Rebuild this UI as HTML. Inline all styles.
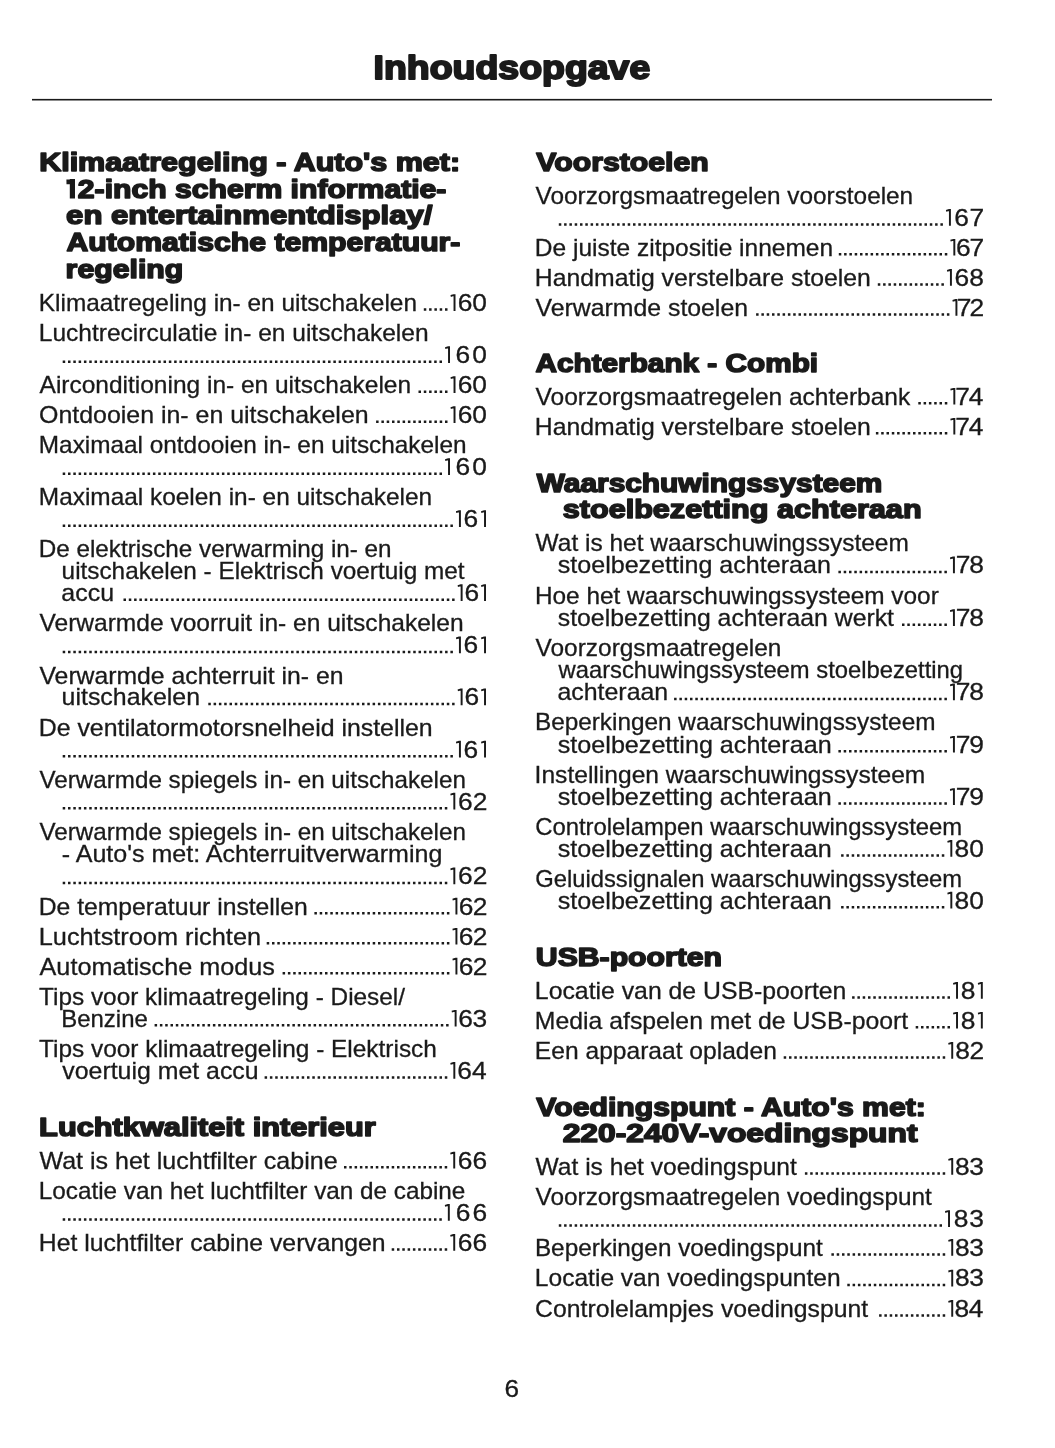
<!DOCTYPE html>
<html><head><meta charset="utf-8"><title>Inhoudsopgave</title>
<style>
html,body{margin:0;padding:0;background:#fff;}
body{width:1055px;height:1448px;overflow:hidden;}
svg{display:block;filter:grayscale(100%);}
text{font-family:'Liberation Sans', sans-serif;fill:#1c1a1b;}
text.b{font-weight:700;}
text.r{font-weight:400;stroke:#1c1a1b;stroke-width:0.3px;}
</style></head><body>
<svg width="1055" height="1448" viewBox="0 0 1055 1448">
<rect x="32" y="98.9" width="960" height="1.6" fill="#1c1a1b"/>
<text class="b" x="373.59" y="78.80" font-size="33.4" textLength="276.69" lengthAdjust="spacingAndGlyphs" stroke="#1c1a1b" stroke-width="2.0" stroke-linejoin="round">Inhoudsopgave</text>
<text class="r" x="504.47" y="1396.70" font-size="24.0" textLength="14.58" lengthAdjust="spacingAndGlyphs">6</text>
<text class="b" x="39.16" y="170.80" font-size="26.3" textLength="420.97" lengthAdjust="spacingAndGlyphs" stroke="#1c1a1b" stroke-width="1.6" stroke-linejoin="round">Klimaatregeling - Auto&#x27;s met:</text>
<text class="b" x="77.85" y="197.60" font-size="26.3" textLength="368.55" lengthAdjust="spacingAndGlyphs" stroke="#1c1a1b" stroke-width="1.6" stroke-linejoin="round">2-inch scherm informatie-</text>
<text class="b" x="66.08" y="224.20" font-size="26.3" textLength="366.42" lengthAdjust="spacingAndGlyphs" stroke="#1c1a1b" stroke-width="1.6" stroke-linejoin="round">en entertainmentdisplay/</text>
<text class="b" x="66.55" y="250.80" font-size="26.3" textLength="393.86" lengthAdjust="spacingAndGlyphs" stroke="#1c1a1b" stroke-width="1.6" stroke-linejoin="round">Automatische temperatuur-</text>
<text class="b" x="65.61" y="277.50" font-size="26.3" textLength="117.62" lengthAdjust="spacingAndGlyphs" stroke="#1c1a1b" stroke-width="1.6" stroke-linejoin="round">regeling</text>
<text class="r" x="38.80" y="310.90" font-size="24.0" textLength="378.18" lengthAdjust="spacingAndGlyphs">Klimaatregeling in- en uitschakelen</text>
<text class="r" x="38.79" y="341.00" font-size="24.0" textLength="389.80" lengthAdjust="spacingAndGlyphs">Luchtrecirculatie in- en uitschakelen</text>
<text class="r" x="39.55" y="393.00" font-size="24.0" textLength="371.54" lengthAdjust="spacingAndGlyphs">Airconditioning in- en uitschakelen</text>
<text class="r" x="39.12" y="423.00" font-size="24.0" textLength="329.50" lengthAdjust="spacingAndGlyphs">Ontdooien in- en uitschakelen</text>
<text class="r" x="38.80" y="453.00" font-size="24.0" textLength="427.78" lengthAdjust="spacingAndGlyphs">Maximaal ontdooien in- en uitschakelen</text>
<text class="r" x="38.80" y="505.00" font-size="24.0" textLength="393.39" lengthAdjust="spacingAndGlyphs">Maximaal koelen in- en uitschakelen</text>
<text class="r" x="38.81" y="557.00" font-size="24.0" textLength="352.76" lengthAdjust="spacingAndGlyphs">De elektrische verwarming in- en</text>
<text class="r" x="61.62" y="579.00" font-size="24.0" textLength="402.86" lengthAdjust="spacingAndGlyphs">uitschakelen - Elektrisch voertuig met</text>
<text class="r" x="61.34" y="601.00" font-size="24.0" textLength="52.72" lengthAdjust="spacingAndGlyphs">accu</text>
<text class="r" x="39.49" y="631.30" font-size="24.0" textLength="424.10" lengthAdjust="spacingAndGlyphs">Verwarmde voorruit in- en uitschakelen</text>
<text class="r" x="39.49" y="683.50" font-size="24.0" textLength="303.92" lengthAdjust="spacingAndGlyphs">Verwarmde achterruit in- en</text>
<text class="r" x="61.58" y="705.30" font-size="24.0" textLength="138.43" lengthAdjust="spacingAndGlyphs">uitschakelen</text>
<text class="r" x="38.76" y="735.70" font-size="24.0" textLength="393.85" lengthAdjust="spacingAndGlyphs">De ventilatormotorsnelheid instellen</text>
<text class="r" x="39.49" y="787.60" font-size="24.0" textLength="426.38" lengthAdjust="spacingAndGlyphs">Verwarmde spiegels in- en uitschakelen</text>
<text class="r" x="39.49" y="840.00" font-size="24.0" textLength="426.38" lengthAdjust="spacingAndGlyphs">Verwarmde spiegels in- en uitschakelen</text>
<text class="r" x="61.79" y="862.00" font-size="24.0" textLength="380.53" lengthAdjust="spacingAndGlyphs">- Auto&#x27;s met: Achterruitverwarming</text>
<text class="r" x="38.77" y="914.50" font-size="24.0" textLength="269.03" lengthAdjust="spacingAndGlyphs">De temperatuur instellen</text>
<text class="r" x="38.72" y="944.60" font-size="24.0" textLength="222.32" lengthAdjust="spacingAndGlyphs">Luchtstroom richten</text>
<text class="r" x="39.55" y="974.50" font-size="24.0" textLength="235.36" lengthAdjust="spacingAndGlyphs">Automatische modus</text>
<text class="r" x="39.05" y="1004.60" font-size="24.0" textLength="365.95" lengthAdjust="spacingAndGlyphs">Tips voor klimaatregeling - Diesel/</text>
<text class="r" x="61.24" y="1026.60" font-size="24.0" textLength="86.53" lengthAdjust="spacingAndGlyphs">Benzine</text>
<text class="r" x="39.05" y="1056.70" font-size="24.0" textLength="397.83" lengthAdjust="spacingAndGlyphs">Tips voor klimaatregeling - Elektrisch</text>
<text class="r" x="62.31" y="1078.70" font-size="24.0" textLength="196.34" lengthAdjust="spacingAndGlyphs">voertuig met accu</text>
<text class="b" x="39.14" y="1135.90" font-size="26.3" textLength="336.52" lengthAdjust="spacingAndGlyphs" stroke="#1c1a1b" stroke-width="1.6" stroke-linejoin="round">Luchtkwaliteit interieur</text>
<text class="r" x="39.49" y="1168.50" font-size="24.0" textLength="298.12" lengthAdjust="spacingAndGlyphs">Wat is het luchtfilter cabine</text>
<text class="r" x="38.81" y="1198.70" font-size="24.0" textLength="426.57" lengthAdjust="spacingAndGlyphs">Locatie van het luchtfilter van de cabine</text>
<text class="r" x="38.77" y="1250.80" font-size="24.0" textLength="346.84" lengthAdjust="spacingAndGlyphs">Het luchtfilter cabine vervangen</text>
<text class="b" x="536.39" y="170.80" font-size="26.3" textLength="172.28" lengthAdjust="spacingAndGlyphs" stroke="#1c1a1b" stroke-width="1.6" stroke-linejoin="round">Voorstoelen</text>
<text class="r" x="535.59" y="203.70" font-size="24.0" textLength="377.59" lengthAdjust="spacingAndGlyphs">Voorzorgsmaatregelen voorstoelen</text>
<text class="r" x="534.89" y="255.60" font-size="24.0" textLength="298.20" lengthAdjust="spacingAndGlyphs">De juiste zitpositie innemen</text>
<text class="r" x="534.87" y="285.70" font-size="24.0" textLength="336.04" lengthAdjust="spacingAndGlyphs">Handmatig verstelbare stoelen</text>
<text class="r" x="535.59" y="315.80" font-size="24.0" textLength="212.42" lengthAdjust="spacingAndGlyphs">Verwarmde stoelen</text>
<text class="b" x="535.46" y="372.00" font-size="26.3" textLength="282.65" lengthAdjust="spacingAndGlyphs" stroke="#1c1a1b" stroke-width="1.6" stroke-linejoin="round">Achterbank - Combi</text>
<text class="r" x="535.59" y="404.60" font-size="24.0" textLength="374.67" lengthAdjust="spacingAndGlyphs">Voorzorgsmaatregelen achterbank</text>
<text class="r" x="534.87" y="434.60" font-size="24.0" textLength="336.04" lengthAdjust="spacingAndGlyphs">Handmatig verstelbare stoelen</text>
<text class="b" x="536.77" y="491.70" font-size="26.3" textLength="345.58" lengthAdjust="spacingAndGlyphs" stroke="#1c1a1b" stroke-width="1.6" stroke-linejoin="round">Waarschuwingssysteem</text>
<text class="b" x="562.72" y="518.20" font-size="26.3" textLength="358.87" lengthAdjust="spacingAndGlyphs" stroke="#1c1a1b" stroke-width="1.6" stroke-linejoin="round">stoelbezetting achteraan</text>
<text class="r" x="535.59" y="550.90" font-size="24.0" textLength="373.22" lengthAdjust="spacingAndGlyphs">Wat is het waarschuwingssysteem</text>
<text class="r" x="557.80" y="573.30" font-size="24.0" textLength="273.02" lengthAdjust="spacingAndGlyphs">stoelbezetting achteraan</text>
<text class="r" x="534.90" y="603.50" font-size="24.0" textLength="403.91" lengthAdjust="spacingAndGlyphs">Hoe het waarschuwingssysteem voor</text>
<text class="r" x="557.81" y="626.00" font-size="24.0" textLength="336.17" lengthAdjust="spacingAndGlyphs">stoelbezetting achteraan werkt</text>
<text class="r" x="535.59" y="655.90" font-size="24.0" textLength="245.79" lengthAdjust="spacingAndGlyphs">Voorzorgsmaatregelen</text>
<text class="r" x="558.53" y="678.00" font-size="24.0" textLength="404.50" lengthAdjust="spacingAndGlyphs">waarschuwingssysteem stoelbezetting</text>
<text class="r" x="557.44" y="700.20" font-size="24.0" textLength="110.78" lengthAdjust="spacingAndGlyphs">achteraan</text>
<text class="r" x="534.90" y="730.40" font-size="24.0" textLength="400.60" lengthAdjust="spacingAndGlyphs">Beperkingen waarschuwingssysteem</text>
<text class="r" x="557.80" y="752.60" font-size="24.0" textLength="273.83" lengthAdjust="spacingAndGlyphs">stoelbezetting achteraan</text>
<text class="r" x="534.63" y="782.90" font-size="24.0" textLength="390.69" lengthAdjust="spacingAndGlyphs">Instellingen waarschuwingssysteem</text>
<text class="r" x="557.80" y="804.90" font-size="24.0" textLength="273.83" lengthAdjust="spacingAndGlyphs">stoelbezetting achteraan</text>
<text class="r" x="535.19" y="835.00" font-size="24.0" textLength="426.98" lengthAdjust="spacingAndGlyphs">Controlelampen waarschuwingssysteem</text>
<text class="r" x="557.80" y="856.70" font-size="24.0" textLength="273.83" lengthAdjust="spacingAndGlyphs">stoelbezetting achteraan</text>
<text class="r" x="535.20" y="887.00" font-size="24.0" textLength="426.96" lengthAdjust="spacingAndGlyphs">Geluidssignalen waarschuwingssysteem</text>
<text class="r" x="557.80" y="908.50" font-size="24.0" textLength="273.83" lengthAdjust="spacingAndGlyphs">stoelbezetting achteraan</text>
<text class="b" x="535.89" y="966.00" font-size="26.3" textLength="186.19" lengthAdjust="spacingAndGlyphs" stroke="#1c1a1b" stroke-width="1.6" stroke-linejoin="round">USB-poorten</text>
<text class="r" x="534.87" y="998.70" font-size="24.0" textLength="311.54" lengthAdjust="spacingAndGlyphs">Locatie van de USB-poorten</text>
<text class="r" x="534.87" y="1028.60" font-size="24.0" textLength="373.31" lengthAdjust="spacingAndGlyphs">Media afspelen met de USB-poort</text>
<text class="r" x="534.88" y="1058.80" font-size="24.0" textLength="242.01" lengthAdjust="spacingAndGlyphs">Een apparaat opladen</text>
<text class="b" x="536.39" y="1115.70" font-size="26.3" textLength="389.41" lengthAdjust="spacingAndGlyphs" stroke="#1c1a1b" stroke-width="1.6" stroke-linejoin="round">Voedingspunt - Auto&#x27;s met:</text>
<text class="b" x="562.70" y="1141.80" font-size="26.3" textLength="354.79" lengthAdjust="spacingAndGlyphs" stroke="#1c1a1b" stroke-width="1.6" stroke-linejoin="round">220-240V-voedingspunt</text>
<text class="r" x="535.59" y="1174.80" font-size="24.0" textLength="261.29" lengthAdjust="spacingAndGlyphs">Wat is het voedingspunt</text>
<text class="r" x="535.59" y="1204.90" font-size="24.0" textLength="396.29" lengthAdjust="spacingAndGlyphs">Voorzorgsmaatregelen voedingspunt</text>
<text class="r" x="534.91" y="1255.70" font-size="24.0" textLength="287.87" lengthAdjust="spacingAndGlyphs">Beperkingen voedingspunt</text>
<text class="r" x="534.89" y="1286.40" font-size="24.0" textLength="305.71" lengthAdjust="spacingAndGlyphs">Locatie van voedingspunten</text>
<text class="r" x="535.14" y="1316.70" font-size="24.0" textLength="333.04" lengthAdjust="spacingAndGlyphs">Controlelampjes voedingspunt</text>
<text class="r" x="457.68" y="310.90" font-size="24.0" textLength="14.68" lengthAdjust="spacingAndGlyphs">6</text>
<text class="r" x="472.35" y="310.90" font-size="24.0" textLength="14.68" lengthAdjust="spacingAndGlyphs">0</text>
<text class="r" x="455.58" y="363.00" font-size="24.0" textLength="14.68" lengthAdjust="spacingAndGlyphs">6</text>
<text class="r" x="472.35" y="363.00" font-size="24.0" textLength="14.68" lengthAdjust="spacingAndGlyphs">0</text>
<text class="r" x="457.68" y="393.00" font-size="24.0" textLength="14.68" lengthAdjust="spacingAndGlyphs">6</text>
<text class="r" x="472.35" y="393.00" font-size="24.0" textLength="14.68" lengthAdjust="spacingAndGlyphs">0</text>
<text class="r" x="457.68" y="423.00" font-size="24.0" textLength="14.68" lengthAdjust="spacingAndGlyphs">6</text>
<text class="r" x="472.35" y="423.00" font-size="24.0" textLength="14.68" lengthAdjust="spacingAndGlyphs">0</text>
<text class="r" x="455.58" y="475.00" font-size="24.0" textLength="14.68" lengthAdjust="spacingAndGlyphs">6</text>
<text class="r" x="472.35" y="475.00" font-size="24.0" textLength="14.68" lengthAdjust="spacingAndGlyphs">0</text>
<text class="r" x="463.62" y="527.00" font-size="24.0" textLength="14.68" lengthAdjust="spacingAndGlyphs">6</text>
<text class="r" x="464.44" y="601.00" font-size="24.0" textLength="14.68" lengthAdjust="spacingAndGlyphs">6</text>
<text class="r" x="463.62" y="653.20" font-size="24.0" textLength="14.68" lengthAdjust="spacingAndGlyphs">6</text>
<text class="r" x="464.44" y="705.30" font-size="24.0" textLength="14.68" lengthAdjust="spacingAndGlyphs">6</text>
<text class="r" x="463.62" y="757.50" font-size="24.0" textLength="14.68" lengthAdjust="spacingAndGlyphs">6</text>
<text class="r" x="457.97" y="809.50" font-size="24.0" textLength="14.68" lengthAdjust="spacingAndGlyphs">6</text>
<text class="r" x="472.65" y="809.50" font-size="24.0" textLength="14.68" lengthAdjust="spacingAndGlyphs">2</text>
<text class="r" x="457.97" y="884.30" font-size="24.0" textLength="14.68" lengthAdjust="spacingAndGlyphs">6</text>
<text class="r" x="472.65" y="884.30" font-size="24.0" textLength="14.68" lengthAdjust="spacingAndGlyphs">2</text>
<text class="r" x="458.77" y="914.50" font-size="24.0" textLength="14.68" lengthAdjust="spacingAndGlyphs">6</text>
<text class="r" x="472.65" y="914.50" font-size="24.0" textLength="14.68" lengthAdjust="spacingAndGlyphs">2</text>
<text class="r" x="458.77" y="944.60" font-size="24.0" textLength="14.68" lengthAdjust="spacingAndGlyphs">6</text>
<text class="r" x="472.65" y="944.60" font-size="24.0" textLength="14.68" lengthAdjust="spacingAndGlyphs">2</text>
<text class="r" x="458.77" y="974.50" font-size="24.0" textLength="14.68" lengthAdjust="spacingAndGlyphs">6</text>
<text class="r" x="472.65" y="974.50" font-size="24.0" textLength="14.68" lengthAdjust="spacingAndGlyphs">2</text>
<text class="r" x="458.16" y="1026.60" font-size="24.0" textLength="14.68" lengthAdjust="spacingAndGlyphs">6</text>
<text class="r" x="472.48" y="1026.60" font-size="24.0" textLength="14.68" lengthAdjust="spacingAndGlyphs">3</text>
<text class="r" x="457.18" y="1078.70" font-size="24.0" textLength="14.68" lengthAdjust="spacingAndGlyphs">6</text>
<text class="r" x="472.09" y="1078.70" font-size="24.0" textLength="14.68" lengthAdjust="spacingAndGlyphs">4</text>
<text class="r" x="457.83" y="1168.50" font-size="24.0" textLength="14.68" lengthAdjust="spacingAndGlyphs">6</text>
<text class="r" x="472.48" y="1168.50" font-size="24.0" textLength="14.68" lengthAdjust="spacingAndGlyphs">6</text>
<text class="r" x="455.77" y="1220.80" font-size="24.0" textLength="14.68" lengthAdjust="spacingAndGlyphs">6</text>
<text class="r" x="472.48" y="1220.80" font-size="24.0" textLength="14.68" lengthAdjust="spacingAndGlyphs">6</text>
<text class="r" x="457.83" y="1250.80" font-size="24.0" textLength="14.68" lengthAdjust="spacingAndGlyphs">6</text>
<text class="r" x="472.48" y="1250.80" font-size="24.0" textLength="14.68" lengthAdjust="spacingAndGlyphs">6</text>
<text class="r" x="954.33" y="225.70" font-size="24.0" textLength="14.68" lengthAdjust="spacingAndGlyphs">6</text>
<text class="r" x="969.45" y="225.70" font-size="24.0" textLength="14.68" lengthAdjust="spacingAndGlyphs">7</text>
<text class="r" x="956.01" y="255.60" font-size="24.0" textLength="14.68" lengthAdjust="spacingAndGlyphs">6</text>
<text class="r" x="969.45" y="255.60" font-size="24.0" textLength="14.68" lengthAdjust="spacingAndGlyphs">7</text>
<text class="r" x="954.47" y="285.70" font-size="24.0" textLength="14.68" lengthAdjust="spacingAndGlyphs">6</text>
<text class="r" x="969.26" y="285.70" font-size="24.0" textLength="14.68" lengthAdjust="spacingAndGlyphs">8</text>
<text class="r" x="956.89" y="315.80" font-size="24.0" textLength="14.68" lengthAdjust="spacingAndGlyphs">7</text>
<text class="r" x="969.45" y="315.80" font-size="24.0" textLength="14.68" lengthAdjust="spacingAndGlyphs">2</text>
<text class="r" x="955.30" y="404.60" font-size="24.0" textLength="14.68" lengthAdjust="spacingAndGlyphs">7</text>
<text class="r" x="968.89" y="404.60" font-size="24.0" textLength="14.68" lengthAdjust="spacingAndGlyphs">4</text>
<text class="r" x="955.30" y="434.60" font-size="24.0" textLength="14.68" lengthAdjust="spacingAndGlyphs">7</text>
<text class="r" x="968.89" y="434.60" font-size="24.0" textLength="14.68" lengthAdjust="spacingAndGlyphs">4</text>
<text class="r" x="955.72" y="573.30" font-size="24.0" textLength="14.68" lengthAdjust="spacingAndGlyphs">7</text>
<text class="r" x="969.26" y="573.30" font-size="24.0" textLength="14.68" lengthAdjust="spacingAndGlyphs">8</text>
<text class="r" x="955.72" y="626.00" font-size="24.0" textLength="14.68" lengthAdjust="spacingAndGlyphs">7</text>
<text class="r" x="969.26" y="626.00" font-size="24.0" textLength="14.68" lengthAdjust="spacingAndGlyphs">8</text>
<text class="r" x="955.72" y="700.20" font-size="24.0" textLength="14.68" lengthAdjust="spacingAndGlyphs">7</text>
<text class="r" x="969.26" y="700.20" font-size="24.0" textLength="14.68" lengthAdjust="spacingAndGlyphs">8</text>
<text class="r" x="955.83" y="752.60" font-size="24.0" textLength="14.68" lengthAdjust="spacingAndGlyphs">7</text>
<text class="r" x="969.37" y="752.60" font-size="24.0" textLength="14.68" lengthAdjust="spacingAndGlyphs">9</text>
<text class="r" x="955.83" y="804.90" font-size="24.0" textLength="14.68" lengthAdjust="spacingAndGlyphs">7</text>
<text class="r" x="969.37" y="804.90" font-size="24.0" textLength="14.68" lengthAdjust="spacingAndGlyphs">9</text>
<text class="r" x="954.54" y="856.70" font-size="24.0" textLength="14.68" lengthAdjust="spacingAndGlyphs">8</text>
<text class="r" x="969.15" y="856.70" font-size="24.0" textLength="14.68" lengthAdjust="spacingAndGlyphs">0</text>
<text class="r" x="954.54" y="908.50" font-size="24.0" textLength="14.68" lengthAdjust="spacingAndGlyphs">8</text>
<text class="r" x="969.15" y="908.50" font-size="24.0" textLength="14.68" lengthAdjust="spacingAndGlyphs">0</text>
<text class="r" x="960.65" y="998.70" font-size="24.0" textLength="14.68" lengthAdjust="spacingAndGlyphs">8</text>
<text class="r" x="960.65" y="1028.60" font-size="24.0" textLength="14.68" lengthAdjust="spacingAndGlyphs">8</text>
<text class="r" x="955.26" y="1058.80" font-size="24.0" textLength="14.68" lengthAdjust="spacingAndGlyphs">8</text>
<text class="r" x="969.45" y="1058.80" font-size="24.0" textLength="14.68" lengthAdjust="spacingAndGlyphs">2</text>
<text class="r" x="954.95" y="1174.80" font-size="24.0" textLength="14.68" lengthAdjust="spacingAndGlyphs">8</text>
<text class="r" x="969.28" y="1174.80" font-size="24.0" textLength="14.68" lengthAdjust="spacingAndGlyphs">3</text>
<text class="r" x="953.73" y="1226.90" font-size="24.0" textLength="14.68" lengthAdjust="spacingAndGlyphs">8</text>
<text class="r" x="969.28" y="1226.90" font-size="24.0" textLength="14.68" lengthAdjust="spacingAndGlyphs">3</text>
<text class="r" x="954.95" y="1255.70" font-size="24.0" textLength="14.68" lengthAdjust="spacingAndGlyphs">8</text>
<text class="r" x="969.28" y="1255.70" font-size="24.0" textLength="14.68" lengthAdjust="spacingAndGlyphs">3</text>
<text class="r" x="954.95" y="1286.40" font-size="24.0" textLength="14.68" lengthAdjust="spacingAndGlyphs">8</text>
<text class="r" x="969.28" y="1286.40" font-size="24.0" textLength="14.68" lengthAdjust="spacingAndGlyphs">3</text>
<text class="r" x="954.47" y="1316.70" font-size="24.0" textLength="14.68" lengthAdjust="spacingAndGlyphs">8</text>
<text class="r" x="968.89" y="1316.70" font-size="24.0" textLength="14.68" lengthAdjust="spacingAndGlyphs">4</text>
<path fill="#1c1a1b" d="M445.00 308.35h2.5v2.5h-2.5zM439.70 308.35h2.5v2.5h-2.5zM434.40 308.35h2.5v2.5h-2.5zM429.10 308.35h2.5v2.5h-2.5zM423.80 308.35h2.5v2.5h-2.5zM439.50 360.45h2.5v2.5h-2.5zM434.19 360.45h2.5v2.5h-2.5zM428.89 360.45h2.5v2.5h-2.5zM423.58 360.45h2.5v2.5h-2.5zM418.27 360.45h2.5v2.5h-2.5zM412.96 360.45h2.5v2.5h-2.5zM407.66 360.45h2.5v2.5h-2.5zM402.35 360.45h2.5v2.5h-2.5zM397.04 360.45h2.5v2.5h-2.5zM391.74 360.45h2.5v2.5h-2.5zM386.43 360.45h2.5v2.5h-2.5zM381.12 360.45h2.5v2.5h-2.5zM375.82 360.45h2.5v2.5h-2.5zM370.51 360.45h2.5v2.5h-2.5zM365.20 360.45h2.5v2.5h-2.5zM359.89 360.45h2.5v2.5h-2.5zM354.59 360.45h2.5v2.5h-2.5zM349.28 360.45h2.5v2.5h-2.5zM343.97 360.45h2.5v2.5h-2.5zM338.67 360.45h2.5v2.5h-2.5zM333.36 360.45h2.5v2.5h-2.5zM328.05 360.45h2.5v2.5h-2.5zM322.75 360.45h2.5v2.5h-2.5zM317.44 360.45h2.5v2.5h-2.5zM312.13 360.45h2.5v2.5h-2.5zM306.82 360.45h2.5v2.5h-2.5zM301.52 360.45h2.5v2.5h-2.5zM296.21 360.45h2.5v2.5h-2.5zM290.90 360.45h2.5v2.5h-2.5zM285.60 360.45h2.5v2.5h-2.5zM280.29 360.45h2.5v2.5h-2.5zM274.98 360.45h2.5v2.5h-2.5zM269.67 360.45h2.5v2.5h-2.5zM264.37 360.45h2.5v2.5h-2.5zM259.06 360.45h2.5v2.5h-2.5zM253.75 360.45h2.5v2.5h-2.5zM248.45 360.45h2.5v2.5h-2.5zM243.14 360.45h2.5v2.5h-2.5zM237.83 360.45h2.5v2.5h-2.5zM232.53 360.45h2.5v2.5h-2.5zM227.22 360.45h2.5v2.5h-2.5zM221.91 360.45h2.5v2.5h-2.5zM216.60 360.45h2.5v2.5h-2.5zM211.30 360.45h2.5v2.5h-2.5zM205.99 360.45h2.5v2.5h-2.5zM200.68 360.45h2.5v2.5h-2.5zM195.38 360.45h2.5v2.5h-2.5zM190.07 360.45h2.5v2.5h-2.5zM184.76 360.45h2.5v2.5h-2.5zM179.45 360.45h2.5v2.5h-2.5zM174.15 360.45h2.5v2.5h-2.5zM168.84 360.45h2.5v2.5h-2.5zM163.53 360.45h2.5v2.5h-2.5zM158.23 360.45h2.5v2.5h-2.5zM152.92 360.45h2.5v2.5h-2.5zM147.61 360.45h2.5v2.5h-2.5zM142.31 360.45h2.5v2.5h-2.5zM137.00 360.45h2.5v2.5h-2.5zM131.69 360.45h2.5v2.5h-2.5zM126.38 360.45h2.5v2.5h-2.5zM121.08 360.45h2.5v2.5h-2.5zM115.77 360.45h2.5v2.5h-2.5zM110.46 360.45h2.5v2.5h-2.5zM105.16 360.45h2.5v2.5h-2.5zM99.85 360.45h2.5v2.5h-2.5zM94.54 360.45h2.5v2.5h-2.5zM89.24 360.45h2.5v2.5h-2.5zM83.93 360.45h2.5v2.5h-2.5zM78.62 360.45h2.5v2.5h-2.5zM73.31 360.45h2.5v2.5h-2.5zM68.01 360.45h2.5v2.5h-2.5zM62.70 360.45h2.5v2.5h-2.5zM445.00 390.45h2.5v2.5h-2.5zM439.70 390.45h2.5v2.5h-2.5zM434.40 390.45h2.5v2.5h-2.5zM429.10 390.45h2.5v2.5h-2.5zM423.80 390.45h2.5v2.5h-2.5zM418.50 390.45h2.5v2.5h-2.5zM445.00 420.45h2.5v2.5h-2.5zM439.70 420.45h2.5v2.5h-2.5zM434.40 420.45h2.5v2.5h-2.5zM429.10 420.45h2.5v2.5h-2.5zM423.80 420.45h2.5v2.5h-2.5zM418.50 420.45h2.5v2.5h-2.5zM413.20 420.45h2.5v2.5h-2.5zM407.90 420.45h2.5v2.5h-2.5zM402.60 420.45h2.5v2.5h-2.5zM397.30 420.45h2.5v2.5h-2.5zM392.00 420.45h2.5v2.5h-2.5zM386.70 420.45h2.5v2.5h-2.5zM381.40 420.45h2.5v2.5h-2.5zM376.10 420.45h2.5v2.5h-2.5zM439.50 472.45h2.5v2.5h-2.5zM434.19 472.45h2.5v2.5h-2.5zM428.89 472.45h2.5v2.5h-2.5zM423.58 472.45h2.5v2.5h-2.5zM418.27 472.45h2.5v2.5h-2.5zM412.96 472.45h2.5v2.5h-2.5zM407.66 472.45h2.5v2.5h-2.5zM402.35 472.45h2.5v2.5h-2.5zM397.04 472.45h2.5v2.5h-2.5zM391.74 472.45h2.5v2.5h-2.5zM386.43 472.45h2.5v2.5h-2.5zM381.12 472.45h2.5v2.5h-2.5zM375.82 472.45h2.5v2.5h-2.5zM370.51 472.45h2.5v2.5h-2.5zM365.20 472.45h2.5v2.5h-2.5zM359.89 472.45h2.5v2.5h-2.5zM354.59 472.45h2.5v2.5h-2.5zM349.28 472.45h2.5v2.5h-2.5zM343.97 472.45h2.5v2.5h-2.5zM338.67 472.45h2.5v2.5h-2.5zM333.36 472.45h2.5v2.5h-2.5zM328.05 472.45h2.5v2.5h-2.5zM322.75 472.45h2.5v2.5h-2.5zM317.44 472.45h2.5v2.5h-2.5zM312.13 472.45h2.5v2.5h-2.5zM306.82 472.45h2.5v2.5h-2.5zM301.52 472.45h2.5v2.5h-2.5zM296.21 472.45h2.5v2.5h-2.5zM290.90 472.45h2.5v2.5h-2.5zM285.60 472.45h2.5v2.5h-2.5zM280.29 472.45h2.5v2.5h-2.5zM274.98 472.45h2.5v2.5h-2.5zM269.67 472.45h2.5v2.5h-2.5zM264.37 472.45h2.5v2.5h-2.5zM259.06 472.45h2.5v2.5h-2.5zM253.75 472.45h2.5v2.5h-2.5zM248.45 472.45h2.5v2.5h-2.5zM243.14 472.45h2.5v2.5h-2.5zM237.83 472.45h2.5v2.5h-2.5zM232.53 472.45h2.5v2.5h-2.5zM227.22 472.45h2.5v2.5h-2.5zM221.91 472.45h2.5v2.5h-2.5zM216.60 472.45h2.5v2.5h-2.5zM211.30 472.45h2.5v2.5h-2.5zM205.99 472.45h2.5v2.5h-2.5zM200.68 472.45h2.5v2.5h-2.5zM195.38 472.45h2.5v2.5h-2.5zM190.07 472.45h2.5v2.5h-2.5zM184.76 472.45h2.5v2.5h-2.5zM179.45 472.45h2.5v2.5h-2.5zM174.15 472.45h2.5v2.5h-2.5zM168.84 472.45h2.5v2.5h-2.5zM163.53 472.45h2.5v2.5h-2.5zM158.23 472.45h2.5v2.5h-2.5zM152.92 472.45h2.5v2.5h-2.5zM147.61 472.45h2.5v2.5h-2.5zM142.31 472.45h2.5v2.5h-2.5zM137.00 472.45h2.5v2.5h-2.5zM131.69 472.45h2.5v2.5h-2.5zM126.38 472.45h2.5v2.5h-2.5zM121.08 472.45h2.5v2.5h-2.5zM115.77 472.45h2.5v2.5h-2.5zM110.46 472.45h2.5v2.5h-2.5zM105.16 472.45h2.5v2.5h-2.5zM99.85 472.45h2.5v2.5h-2.5zM94.54 472.45h2.5v2.5h-2.5zM89.24 472.45h2.5v2.5h-2.5zM83.93 472.45h2.5v2.5h-2.5zM78.62 472.45h2.5v2.5h-2.5zM73.31 472.45h2.5v2.5h-2.5zM68.01 472.45h2.5v2.5h-2.5zM62.70 472.45h2.5v2.5h-2.5zM450.40 524.45h2.5v2.5h-2.5zM445.09 524.45h2.5v2.5h-2.5zM439.78 524.45h2.5v2.5h-2.5zM434.47 524.45h2.5v2.5h-2.5zM429.16 524.45h2.5v2.5h-2.5zM423.85 524.45h2.5v2.5h-2.5zM418.53 524.45h2.5v2.5h-2.5zM413.22 524.45h2.5v2.5h-2.5zM407.91 524.45h2.5v2.5h-2.5zM402.60 524.45h2.5v2.5h-2.5zM397.29 524.45h2.5v2.5h-2.5zM391.98 524.45h2.5v2.5h-2.5zM386.67 524.45h2.5v2.5h-2.5zM381.36 524.45h2.5v2.5h-2.5zM376.05 524.45h2.5v2.5h-2.5zM370.74 524.45h2.5v2.5h-2.5zM365.42 524.45h2.5v2.5h-2.5zM360.11 524.45h2.5v2.5h-2.5zM354.80 524.45h2.5v2.5h-2.5zM349.49 524.45h2.5v2.5h-2.5zM344.18 524.45h2.5v2.5h-2.5zM338.87 524.45h2.5v2.5h-2.5zM333.56 524.45h2.5v2.5h-2.5zM328.25 524.45h2.5v2.5h-2.5zM322.94 524.45h2.5v2.5h-2.5zM317.63 524.45h2.5v2.5h-2.5zM312.32 524.45h2.5v2.5h-2.5zM307.00 524.45h2.5v2.5h-2.5zM301.69 524.45h2.5v2.5h-2.5zM296.38 524.45h2.5v2.5h-2.5zM291.07 524.45h2.5v2.5h-2.5zM285.76 524.45h2.5v2.5h-2.5zM280.45 524.45h2.5v2.5h-2.5zM275.14 524.45h2.5v2.5h-2.5zM269.83 524.45h2.5v2.5h-2.5zM264.52 524.45h2.5v2.5h-2.5zM259.21 524.45h2.5v2.5h-2.5zM253.89 524.45h2.5v2.5h-2.5zM248.58 524.45h2.5v2.5h-2.5zM243.27 524.45h2.5v2.5h-2.5zM237.96 524.45h2.5v2.5h-2.5zM232.65 524.45h2.5v2.5h-2.5zM227.34 524.45h2.5v2.5h-2.5zM222.03 524.45h2.5v2.5h-2.5zM216.72 524.45h2.5v2.5h-2.5zM211.41 524.45h2.5v2.5h-2.5zM206.10 524.45h2.5v2.5h-2.5zM200.78 524.45h2.5v2.5h-2.5zM195.47 524.45h2.5v2.5h-2.5zM190.16 524.45h2.5v2.5h-2.5zM184.85 524.45h2.5v2.5h-2.5zM179.54 524.45h2.5v2.5h-2.5zM174.23 524.45h2.5v2.5h-2.5zM168.92 524.45h2.5v2.5h-2.5zM163.61 524.45h2.5v2.5h-2.5zM158.30 524.45h2.5v2.5h-2.5zM152.99 524.45h2.5v2.5h-2.5zM147.68 524.45h2.5v2.5h-2.5zM142.36 524.45h2.5v2.5h-2.5zM137.05 524.45h2.5v2.5h-2.5zM131.74 524.45h2.5v2.5h-2.5zM126.43 524.45h2.5v2.5h-2.5zM121.12 524.45h2.5v2.5h-2.5zM115.81 524.45h2.5v2.5h-2.5zM110.50 524.45h2.5v2.5h-2.5zM105.19 524.45h2.5v2.5h-2.5zM99.88 524.45h2.5v2.5h-2.5zM94.57 524.45h2.5v2.5h-2.5zM89.25 524.45h2.5v2.5h-2.5zM83.94 524.45h2.5v2.5h-2.5zM78.63 524.45h2.5v2.5h-2.5zM73.32 524.45h2.5v2.5h-2.5zM68.01 524.45h2.5v2.5h-2.5zM62.70 524.45h2.5v2.5h-2.5zM452.10 598.45h2.5v2.5h-2.5zM446.80 598.45h2.5v2.5h-2.5zM441.50 598.45h2.5v2.5h-2.5zM436.20 598.45h2.5v2.5h-2.5zM430.90 598.45h2.5v2.5h-2.5zM425.60 598.45h2.5v2.5h-2.5zM420.30 598.45h2.5v2.5h-2.5zM415.00 598.45h2.5v2.5h-2.5zM409.70 598.45h2.5v2.5h-2.5zM404.40 598.45h2.5v2.5h-2.5zM399.10 598.45h2.5v2.5h-2.5zM393.80 598.45h2.5v2.5h-2.5zM388.50 598.45h2.5v2.5h-2.5zM383.20 598.45h2.5v2.5h-2.5zM377.90 598.45h2.5v2.5h-2.5zM372.60 598.45h2.5v2.5h-2.5zM367.30 598.45h2.5v2.5h-2.5zM362.00 598.45h2.5v2.5h-2.5zM356.70 598.45h2.5v2.5h-2.5zM351.40 598.45h2.5v2.5h-2.5zM346.10 598.45h2.5v2.5h-2.5zM340.80 598.45h2.5v2.5h-2.5zM335.50 598.45h2.5v2.5h-2.5zM330.20 598.45h2.5v2.5h-2.5zM324.90 598.45h2.5v2.5h-2.5zM319.60 598.45h2.5v2.5h-2.5zM314.30 598.45h2.5v2.5h-2.5zM309.00 598.45h2.5v2.5h-2.5zM303.70 598.45h2.5v2.5h-2.5zM298.40 598.45h2.5v2.5h-2.5zM293.10 598.45h2.5v2.5h-2.5zM287.80 598.45h2.5v2.5h-2.5zM282.50 598.45h2.5v2.5h-2.5zM277.20 598.45h2.5v2.5h-2.5zM271.90 598.45h2.5v2.5h-2.5zM266.60 598.45h2.5v2.5h-2.5zM261.30 598.45h2.5v2.5h-2.5zM256.00 598.45h2.5v2.5h-2.5zM250.70 598.45h2.5v2.5h-2.5zM245.40 598.45h2.5v2.5h-2.5zM240.10 598.45h2.5v2.5h-2.5zM234.80 598.45h2.5v2.5h-2.5zM229.50 598.45h2.5v2.5h-2.5zM224.20 598.45h2.5v2.5h-2.5zM218.90 598.45h2.5v2.5h-2.5zM213.60 598.45h2.5v2.5h-2.5zM208.30 598.45h2.5v2.5h-2.5zM203.00 598.45h2.5v2.5h-2.5zM197.70 598.45h2.5v2.5h-2.5zM192.40 598.45h2.5v2.5h-2.5zM187.10 598.45h2.5v2.5h-2.5zM181.80 598.45h2.5v2.5h-2.5zM176.50 598.45h2.5v2.5h-2.5zM171.20 598.45h2.5v2.5h-2.5zM165.90 598.45h2.5v2.5h-2.5zM160.60 598.45h2.5v2.5h-2.5zM155.30 598.45h2.5v2.5h-2.5zM150.00 598.45h2.5v2.5h-2.5zM144.70 598.45h2.5v2.5h-2.5zM139.40 598.45h2.5v2.5h-2.5zM134.10 598.45h2.5v2.5h-2.5zM128.80 598.45h2.5v2.5h-2.5zM123.50 598.45h2.5v2.5h-2.5zM450.40 650.65h2.5v2.5h-2.5zM445.09 650.65h2.5v2.5h-2.5zM439.78 650.65h2.5v2.5h-2.5zM434.47 650.65h2.5v2.5h-2.5zM429.16 650.65h2.5v2.5h-2.5zM423.85 650.65h2.5v2.5h-2.5zM418.53 650.65h2.5v2.5h-2.5zM413.22 650.65h2.5v2.5h-2.5zM407.91 650.65h2.5v2.5h-2.5zM402.60 650.65h2.5v2.5h-2.5zM397.29 650.65h2.5v2.5h-2.5zM391.98 650.65h2.5v2.5h-2.5zM386.67 650.65h2.5v2.5h-2.5zM381.36 650.65h2.5v2.5h-2.5zM376.05 650.65h2.5v2.5h-2.5zM370.74 650.65h2.5v2.5h-2.5zM365.42 650.65h2.5v2.5h-2.5zM360.11 650.65h2.5v2.5h-2.5zM354.80 650.65h2.5v2.5h-2.5zM349.49 650.65h2.5v2.5h-2.5zM344.18 650.65h2.5v2.5h-2.5zM338.87 650.65h2.5v2.5h-2.5zM333.56 650.65h2.5v2.5h-2.5zM328.25 650.65h2.5v2.5h-2.5zM322.94 650.65h2.5v2.5h-2.5zM317.63 650.65h2.5v2.5h-2.5zM312.32 650.65h2.5v2.5h-2.5zM307.00 650.65h2.5v2.5h-2.5zM301.69 650.65h2.5v2.5h-2.5zM296.38 650.65h2.5v2.5h-2.5zM291.07 650.65h2.5v2.5h-2.5zM285.76 650.65h2.5v2.5h-2.5zM280.45 650.65h2.5v2.5h-2.5zM275.14 650.65h2.5v2.5h-2.5zM269.83 650.65h2.5v2.5h-2.5zM264.52 650.65h2.5v2.5h-2.5zM259.21 650.65h2.5v2.5h-2.5zM253.89 650.65h2.5v2.5h-2.5zM248.58 650.65h2.5v2.5h-2.5zM243.27 650.65h2.5v2.5h-2.5zM237.96 650.65h2.5v2.5h-2.5zM232.65 650.65h2.5v2.5h-2.5zM227.34 650.65h2.5v2.5h-2.5zM222.03 650.65h2.5v2.5h-2.5zM216.72 650.65h2.5v2.5h-2.5zM211.41 650.65h2.5v2.5h-2.5zM206.10 650.65h2.5v2.5h-2.5zM200.78 650.65h2.5v2.5h-2.5zM195.47 650.65h2.5v2.5h-2.5zM190.16 650.65h2.5v2.5h-2.5zM184.85 650.65h2.5v2.5h-2.5zM179.54 650.65h2.5v2.5h-2.5zM174.23 650.65h2.5v2.5h-2.5zM168.92 650.65h2.5v2.5h-2.5zM163.61 650.65h2.5v2.5h-2.5zM158.30 650.65h2.5v2.5h-2.5zM152.99 650.65h2.5v2.5h-2.5zM147.68 650.65h2.5v2.5h-2.5zM142.36 650.65h2.5v2.5h-2.5zM137.05 650.65h2.5v2.5h-2.5zM131.74 650.65h2.5v2.5h-2.5zM126.43 650.65h2.5v2.5h-2.5zM121.12 650.65h2.5v2.5h-2.5zM115.81 650.65h2.5v2.5h-2.5zM110.50 650.65h2.5v2.5h-2.5zM105.19 650.65h2.5v2.5h-2.5zM99.88 650.65h2.5v2.5h-2.5zM94.57 650.65h2.5v2.5h-2.5zM89.25 650.65h2.5v2.5h-2.5zM83.94 650.65h2.5v2.5h-2.5zM78.63 650.65h2.5v2.5h-2.5zM73.32 650.65h2.5v2.5h-2.5zM68.01 650.65h2.5v2.5h-2.5zM62.70 650.65h2.5v2.5h-2.5zM452.10 702.75h2.5v2.5h-2.5zM446.80 702.75h2.5v2.5h-2.5zM441.50 702.75h2.5v2.5h-2.5zM436.20 702.75h2.5v2.5h-2.5zM430.90 702.75h2.5v2.5h-2.5zM425.60 702.75h2.5v2.5h-2.5zM420.30 702.75h2.5v2.5h-2.5zM415.00 702.75h2.5v2.5h-2.5zM409.70 702.75h2.5v2.5h-2.5zM404.40 702.75h2.5v2.5h-2.5zM399.10 702.75h2.5v2.5h-2.5zM393.80 702.75h2.5v2.5h-2.5zM388.50 702.75h2.5v2.5h-2.5zM383.20 702.75h2.5v2.5h-2.5zM377.90 702.75h2.5v2.5h-2.5zM372.60 702.75h2.5v2.5h-2.5zM367.30 702.75h2.5v2.5h-2.5zM362.00 702.75h2.5v2.5h-2.5zM356.70 702.75h2.5v2.5h-2.5zM351.40 702.75h2.5v2.5h-2.5zM346.10 702.75h2.5v2.5h-2.5zM340.80 702.75h2.5v2.5h-2.5zM335.50 702.75h2.5v2.5h-2.5zM330.20 702.75h2.5v2.5h-2.5zM324.90 702.75h2.5v2.5h-2.5zM319.60 702.75h2.5v2.5h-2.5zM314.30 702.75h2.5v2.5h-2.5zM309.00 702.75h2.5v2.5h-2.5zM303.70 702.75h2.5v2.5h-2.5zM298.40 702.75h2.5v2.5h-2.5zM293.10 702.75h2.5v2.5h-2.5zM287.80 702.75h2.5v2.5h-2.5zM282.50 702.75h2.5v2.5h-2.5zM277.20 702.75h2.5v2.5h-2.5zM271.90 702.75h2.5v2.5h-2.5zM266.60 702.75h2.5v2.5h-2.5zM261.30 702.75h2.5v2.5h-2.5zM256.00 702.75h2.5v2.5h-2.5zM250.70 702.75h2.5v2.5h-2.5zM245.40 702.75h2.5v2.5h-2.5zM240.10 702.75h2.5v2.5h-2.5zM234.80 702.75h2.5v2.5h-2.5zM229.50 702.75h2.5v2.5h-2.5zM224.20 702.75h2.5v2.5h-2.5zM218.90 702.75h2.5v2.5h-2.5zM213.60 702.75h2.5v2.5h-2.5zM208.30 702.75h2.5v2.5h-2.5zM450.40 754.95h2.5v2.5h-2.5zM445.09 754.95h2.5v2.5h-2.5zM439.78 754.95h2.5v2.5h-2.5zM434.47 754.95h2.5v2.5h-2.5zM429.16 754.95h2.5v2.5h-2.5zM423.85 754.95h2.5v2.5h-2.5zM418.53 754.95h2.5v2.5h-2.5zM413.22 754.95h2.5v2.5h-2.5zM407.91 754.95h2.5v2.5h-2.5zM402.60 754.95h2.5v2.5h-2.5zM397.29 754.95h2.5v2.5h-2.5zM391.98 754.95h2.5v2.5h-2.5zM386.67 754.95h2.5v2.5h-2.5zM381.36 754.95h2.5v2.5h-2.5zM376.05 754.95h2.5v2.5h-2.5zM370.74 754.95h2.5v2.5h-2.5zM365.42 754.95h2.5v2.5h-2.5zM360.11 754.95h2.5v2.5h-2.5zM354.80 754.95h2.5v2.5h-2.5zM349.49 754.95h2.5v2.5h-2.5zM344.18 754.95h2.5v2.5h-2.5zM338.87 754.95h2.5v2.5h-2.5zM333.56 754.95h2.5v2.5h-2.5zM328.25 754.95h2.5v2.5h-2.5zM322.94 754.95h2.5v2.5h-2.5zM317.63 754.95h2.5v2.5h-2.5zM312.32 754.95h2.5v2.5h-2.5zM307.00 754.95h2.5v2.5h-2.5zM301.69 754.95h2.5v2.5h-2.5zM296.38 754.95h2.5v2.5h-2.5zM291.07 754.95h2.5v2.5h-2.5zM285.76 754.95h2.5v2.5h-2.5zM280.45 754.95h2.5v2.5h-2.5zM275.14 754.95h2.5v2.5h-2.5zM269.83 754.95h2.5v2.5h-2.5zM264.52 754.95h2.5v2.5h-2.5zM259.21 754.95h2.5v2.5h-2.5zM253.89 754.95h2.5v2.5h-2.5zM248.58 754.95h2.5v2.5h-2.5zM243.27 754.95h2.5v2.5h-2.5zM237.96 754.95h2.5v2.5h-2.5zM232.65 754.95h2.5v2.5h-2.5zM227.34 754.95h2.5v2.5h-2.5zM222.03 754.95h2.5v2.5h-2.5zM216.72 754.95h2.5v2.5h-2.5zM211.41 754.95h2.5v2.5h-2.5zM206.10 754.95h2.5v2.5h-2.5zM200.78 754.95h2.5v2.5h-2.5zM195.47 754.95h2.5v2.5h-2.5zM190.16 754.95h2.5v2.5h-2.5zM184.85 754.95h2.5v2.5h-2.5zM179.54 754.95h2.5v2.5h-2.5zM174.23 754.95h2.5v2.5h-2.5zM168.92 754.95h2.5v2.5h-2.5zM163.61 754.95h2.5v2.5h-2.5zM158.30 754.95h2.5v2.5h-2.5zM152.99 754.95h2.5v2.5h-2.5zM147.68 754.95h2.5v2.5h-2.5zM142.36 754.95h2.5v2.5h-2.5zM137.05 754.95h2.5v2.5h-2.5zM131.74 754.95h2.5v2.5h-2.5zM126.43 754.95h2.5v2.5h-2.5zM121.12 754.95h2.5v2.5h-2.5zM115.81 754.95h2.5v2.5h-2.5zM110.50 754.95h2.5v2.5h-2.5zM105.19 754.95h2.5v2.5h-2.5zM99.88 754.95h2.5v2.5h-2.5zM94.57 754.95h2.5v2.5h-2.5zM89.25 754.95h2.5v2.5h-2.5zM83.94 754.95h2.5v2.5h-2.5zM78.63 754.95h2.5v2.5h-2.5zM73.32 754.95h2.5v2.5h-2.5zM68.01 754.95h2.5v2.5h-2.5zM62.70 754.95h2.5v2.5h-2.5zM444.80 806.95h2.5v2.5h-2.5zM439.49 806.95h2.5v2.5h-2.5zM434.19 806.95h2.5v2.5h-2.5zM428.88 806.95h2.5v2.5h-2.5zM423.57 806.95h2.5v2.5h-2.5zM418.27 806.95h2.5v2.5h-2.5zM412.96 806.95h2.5v2.5h-2.5zM407.65 806.95h2.5v2.5h-2.5zM402.34 806.95h2.5v2.5h-2.5zM397.04 806.95h2.5v2.5h-2.5zM391.73 806.95h2.5v2.5h-2.5zM386.42 806.95h2.5v2.5h-2.5zM381.12 806.95h2.5v2.5h-2.5zM375.81 806.95h2.5v2.5h-2.5zM370.50 806.95h2.5v2.5h-2.5zM365.20 806.95h2.5v2.5h-2.5zM359.89 806.95h2.5v2.5h-2.5zM354.58 806.95h2.5v2.5h-2.5zM349.27 806.95h2.5v2.5h-2.5zM343.97 806.95h2.5v2.5h-2.5zM338.66 806.95h2.5v2.5h-2.5zM333.35 806.95h2.5v2.5h-2.5zM328.05 806.95h2.5v2.5h-2.5zM322.74 806.95h2.5v2.5h-2.5zM317.43 806.95h2.5v2.5h-2.5zM312.13 806.95h2.5v2.5h-2.5zM306.82 806.95h2.5v2.5h-2.5zM301.51 806.95h2.5v2.5h-2.5zM296.21 806.95h2.5v2.5h-2.5zM290.90 806.95h2.5v2.5h-2.5zM285.59 806.95h2.5v2.5h-2.5zM280.28 806.95h2.5v2.5h-2.5zM274.98 806.95h2.5v2.5h-2.5zM269.67 806.95h2.5v2.5h-2.5zM264.36 806.95h2.5v2.5h-2.5zM259.06 806.95h2.5v2.5h-2.5zM253.75 806.95h2.5v2.5h-2.5zM248.44 806.95h2.5v2.5h-2.5zM243.14 806.95h2.5v2.5h-2.5zM237.83 806.95h2.5v2.5h-2.5zM232.52 806.95h2.5v2.5h-2.5zM227.22 806.95h2.5v2.5h-2.5zM221.91 806.95h2.5v2.5h-2.5zM216.60 806.95h2.5v2.5h-2.5zM211.29 806.95h2.5v2.5h-2.5zM205.99 806.95h2.5v2.5h-2.5zM200.68 806.95h2.5v2.5h-2.5zM195.37 806.95h2.5v2.5h-2.5zM190.07 806.95h2.5v2.5h-2.5zM184.76 806.95h2.5v2.5h-2.5zM179.45 806.95h2.5v2.5h-2.5zM174.15 806.95h2.5v2.5h-2.5zM168.84 806.95h2.5v2.5h-2.5zM163.53 806.95h2.5v2.5h-2.5zM158.23 806.95h2.5v2.5h-2.5zM152.92 806.95h2.5v2.5h-2.5zM147.61 806.95h2.5v2.5h-2.5zM142.30 806.95h2.5v2.5h-2.5zM137.00 806.95h2.5v2.5h-2.5zM131.69 806.95h2.5v2.5h-2.5zM126.38 806.95h2.5v2.5h-2.5zM121.08 806.95h2.5v2.5h-2.5zM115.77 806.95h2.5v2.5h-2.5zM110.46 806.95h2.5v2.5h-2.5zM105.16 806.95h2.5v2.5h-2.5zM99.85 806.95h2.5v2.5h-2.5zM94.54 806.95h2.5v2.5h-2.5zM89.23 806.95h2.5v2.5h-2.5zM83.93 806.95h2.5v2.5h-2.5zM78.62 806.95h2.5v2.5h-2.5zM73.31 806.95h2.5v2.5h-2.5zM68.01 806.95h2.5v2.5h-2.5zM62.70 806.95h2.5v2.5h-2.5zM444.80 881.75h2.5v2.5h-2.5zM439.49 881.75h2.5v2.5h-2.5zM434.19 881.75h2.5v2.5h-2.5zM428.88 881.75h2.5v2.5h-2.5zM423.57 881.75h2.5v2.5h-2.5zM418.27 881.75h2.5v2.5h-2.5zM412.96 881.75h2.5v2.5h-2.5zM407.65 881.75h2.5v2.5h-2.5zM402.34 881.75h2.5v2.5h-2.5zM397.04 881.75h2.5v2.5h-2.5zM391.73 881.75h2.5v2.5h-2.5zM386.42 881.75h2.5v2.5h-2.5zM381.12 881.75h2.5v2.5h-2.5zM375.81 881.75h2.5v2.5h-2.5zM370.50 881.75h2.5v2.5h-2.5zM365.20 881.75h2.5v2.5h-2.5zM359.89 881.75h2.5v2.5h-2.5zM354.58 881.75h2.5v2.5h-2.5zM349.27 881.75h2.5v2.5h-2.5zM343.97 881.75h2.5v2.5h-2.5zM338.66 881.75h2.5v2.5h-2.5zM333.35 881.75h2.5v2.5h-2.5zM328.05 881.75h2.5v2.5h-2.5zM322.74 881.75h2.5v2.5h-2.5zM317.43 881.75h2.5v2.5h-2.5zM312.13 881.75h2.5v2.5h-2.5zM306.82 881.75h2.5v2.5h-2.5zM301.51 881.75h2.5v2.5h-2.5zM296.21 881.75h2.5v2.5h-2.5zM290.90 881.75h2.5v2.5h-2.5zM285.59 881.75h2.5v2.5h-2.5zM280.28 881.75h2.5v2.5h-2.5zM274.98 881.75h2.5v2.5h-2.5zM269.67 881.75h2.5v2.5h-2.5zM264.36 881.75h2.5v2.5h-2.5zM259.06 881.75h2.5v2.5h-2.5zM253.75 881.75h2.5v2.5h-2.5zM248.44 881.75h2.5v2.5h-2.5zM243.14 881.75h2.5v2.5h-2.5zM237.83 881.75h2.5v2.5h-2.5zM232.52 881.75h2.5v2.5h-2.5zM227.22 881.75h2.5v2.5h-2.5zM221.91 881.75h2.5v2.5h-2.5zM216.60 881.75h2.5v2.5h-2.5zM211.29 881.75h2.5v2.5h-2.5zM205.99 881.75h2.5v2.5h-2.5zM200.68 881.75h2.5v2.5h-2.5zM195.37 881.75h2.5v2.5h-2.5zM190.07 881.75h2.5v2.5h-2.5zM184.76 881.75h2.5v2.5h-2.5zM179.45 881.75h2.5v2.5h-2.5zM174.15 881.75h2.5v2.5h-2.5zM168.84 881.75h2.5v2.5h-2.5zM163.53 881.75h2.5v2.5h-2.5zM158.23 881.75h2.5v2.5h-2.5zM152.92 881.75h2.5v2.5h-2.5zM147.61 881.75h2.5v2.5h-2.5zM142.30 881.75h2.5v2.5h-2.5zM137.00 881.75h2.5v2.5h-2.5zM131.69 881.75h2.5v2.5h-2.5zM126.38 881.75h2.5v2.5h-2.5zM121.08 881.75h2.5v2.5h-2.5zM115.77 881.75h2.5v2.5h-2.5zM110.46 881.75h2.5v2.5h-2.5zM105.16 881.75h2.5v2.5h-2.5zM99.85 881.75h2.5v2.5h-2.5zM94.54 881.75h2.5v2.5h-2.5zM89.23 881.75h2.5v2.5h-2.5zM83.93 881.75h2.5v2.5h-2.5zM78.62 881.75h2.5v2.5h-2.5zM73.31 881.75h2.5v2.5h-2.5zM68.01 881.75h2.5v2.5h-2.5zM62.70 881.75h2.5v2.5h-2.5zM446.90 911.95h2.5v2.5h-2.5zM441.60 911.95h2.5v2.5h-2.5zM436.30 911.95h2.5v2.5h-2.5zM431.00 911.95h2.5v2.5h-2.5zM425.70 911.95h2.5v2.5h-2.5zM420.40 911.95h2.5v2.5h-2.5zM415.10 911.95h2.5v2.5h-2.5zM409.80 911.95h2.5v2.5h-2.5zM404.50 911.95h2.5v2.5h-2.5zM399.20 911.95h2.5v2.5h-2.5zM393.90 911.95h2.5v2.5h-2.5zM388.60 911.95h2.5v2.5h-2.5zM383.30 911.95h2.5v2.5h-2.5zM378.00 911.95h2.5v2.5h-2.5zM372.70 911.95h2.5v2.5h-2.5zM367.40 911.95h2.5v2.5h-2.5zM362.10 911.95h2.5v2.5h-2.5zM356.80 911.95h2.5v2.5h-2.5zM351.50 911.95h2.5v2.5h-2.5zM346.20 911.95h2.5v2.5h-2.5zM340.90 911.95h2.5v2.5h-2.5zM335.60 911.95h2.5v2.5h-2.5zM330.30 911.95h2.5v2.5h-2.5zM325.00 911.95h2.5v2.5h-2.5zM319.70 911.95h2.5v2.5h-2.5zM314.40 911.95h2.5v2.5h-2.5zM446.90 942.05h2.5v2.5h-2.5zM441.60 942.05h2.5v2.5h-2.5zM436.30 942.05h2.5v2.5h-2.5zM431.00 942.05h2.5v2.5h-2.5zM425.70 942.05h2.5v2.5h-2.5zM420.40 942.05h2.5v2.5h-2.5zM415.10 942.05h2.5v2.5h-2.5zM409.80 942.05h2.5v2.5h-2.5zM404.50 942.05h2.5v2.5h-2.5zM399.20 942.05h2.5v2.5h-2.5zM393.90 942.05h2.5v2.5h-2.5zM388.60 942.05h2.5v2.5h-2.5zM383.30 942.05h2.5v2.5h-2.5zM378.00 942.05h2.5v2.5h-2.5zM372.70 942.05h2.5v2.5h-2.5zM367.40 942.05h2.5v2.5h-2.5zM362.10 942.05h2.5v2.5h-2.5zM356.80 942.05h2.5v2.5h-2.5zM351.50 942.05h2.5v2.5h-2.5zM346.20 942.05h2.5v2.5h-2.5zM340.90 942.05h2.5v2.5h-2.5zM335.60 942.05h2.5v2.5h-2.5zM330.30 942.05h2.5v2.5h-2.5zM325.00 942.05h2.5v2.5h-2.5zM319.70 942.05h2.5v2.5h-2.5zM314.40 942.05h2.5v2.5h-2.5zM309.10 942.05h2.5v2.5h-2.5zM303.80 942.05h2.5v2.5h-2.5zM298.50 942.05h2.5v2.5h-2.5zM293.20 942.05h2.5v2.5h-2.5zM287.90 942.05h2.5v2.5h-2.5zM282.60 942.05h2.5v2.5h-2.5zM277.30 942.05h2.5v2.5h-2.5zM272.00 942.05h2.5v2.5h-2.5zM266.70 942.05h2.5v2.5h-2.5zM446.90 971.95h2.5v2.5h-2.5zM441.60 971.95h2.5v2.5h-2.5zM436.30 971.95h2.5v2.5h-2.5zM431.00 971.95h2.5v2.5h-2.5zM425.70 971.95h2.5v2.5h-2.5zM420.40 971.95h2.5v2.5h-2.5zM415.10 971.95h2.5v2.5h-2.5zM409.80 971.95h2.5v2.5h-2.5zM404.50 971.95h2.5v2.5h-2.5zM399.20 971.95h2.5v2.5h-2.5zM393.90 971.95h2.5v2.5h-2.5zM388.60 971.95h2.5v2.5h-2.5zM383.30 971.95h2.5v2.5h-2.5zM378.00 971.95h2.5v2.5h-2.5zM372.70 971.95h2.5v2.5h-2.5zM367.40 971.95h2.5v2.5h-2.5zM362.10 971.95h2.5v2.5h-2.5zM356.80 971.95h2.5v2.5h-2.5zM351.50 971.95h2.5v2.5h-2.5zM346.20 971.95h2.5v2.5h-2.5zM340.90 971.95h2.5v2.5h-2.5zM335.60 971.95h2.5v2.5h-2.5zM330.30 971.95h2.5v2.5h-2.5zM325.00 971.95h2.5v2.5h-2.5zM319.70 971.95h2.5v2.5h-2.5zM314.40 971.95h2.5v2.5h-2.5zM309.10 971.95h2.5v2.5h-2.5zM303.80 971.95h2.5v2.5h-2.5zM298.50 971.95h2.5v2.5h-2.5zM293.20 971.95h2.5v2.5h-2.5zM287.90 971.95h2.5v2.5h-2.5zM282.60 971.95h2.5v2.5h-2.5zM446.10 1024.05h2.5v2.5h-2.5zM440.80 1024.05h2.5v2.5h-2.5zM435.50 1024.05h2.5v2.5h-2.5zM430.20 1024.05h2.5v2.5h-2.5zM424.90 1024.05h2.5v2.5h-2.5zM419.60 1024.05h2.5v2.5h-2.5zM414.30 1024.05h2.5v2.5h-2.5zM409.00 1024.05h2.5v2.5h-2.5zM403.70 1024.05h2.5v2.5h-2.5zM398.40 1024.05h2.5v2.5h-2.5zM393.10 1024.05h2.5v2.5h-2.5zM387.80 1024.05h2.5v2.5h-2.5zM382.50 1024.05h2.5v2.5h-2.5zM377.20 1024.05h2.5v2.5h-2.5zM371.90 1024.05h2.5v2.5h-2.5zM366.60 1024.05h2.5v2.5h-2.5zM361.30 1024.05h2.5v2.5h-2.5zM356.00 1024.05h2.5v2.5h-2.5zM350.70 1024.05h2.5v2.5h-2.5zM345.40 1024.05h2.5v2.5h-2.5zM340.10 1024.05h2.5v2.5h-2.5zM334.80 1024.05h2.5v2.5h-2.5zM329.50 1024.05h2.5v2.5h-2.5zM324.20 1024.05h2.5v2.5h-2.5zM318.90 1024.05h2.5v2.5h-2.5zM313.60 1024.05h2.5v2.5h-2.5zM308.30 1024.05h2.5v2.5h-2.5zM303.00 1024.05h2.5v2.5h-2.5zM297.70 1024.05h2.5v2.5h-2.5zM292.40 1024.05h2.5v2.5h-2.5zM287.10 1024.05h2.5v2.5h-2.5zM281.80 1024.05h2.5v2.5h-2.5zM276.50 1024.05h2.5v2.5h-2.5zM271.20 1024.05h2.5v2.5h-2.5zM265.90 1024.05h2.5v2.5h-2.5zM260.60 1024.05h2.5v2.5h-2.5zM255.30 1024.05h2.5v2.5h-2.5zM250.00 1024.05h2.5v2.5h-2.5zM244.70 1024.05h2.5v2.5h-2.5zM239.40 1024.05h2.5v2.5h-2.5zM234.10 1024.05h2.5v2.5h-2.5zM228.80 1024.05h2.5v2.5h-2.5zM223.50 1024.05h2.5v2.5h-2.5zM218.20 1024.05h2.5v2.5h-2.5zM212.90 1024.05h2.5v2.5h-2.5zM207.60 1024.05h2.5v2.5h-2.5zM202.30 1024.05h2.5v2.5h-2.5zM197.00 1024.05h2.5v2.5h-2.5zM191.70 1024.05h2.5v2.5h-2.5zM186.40 1024.05h2.5v2.5h-2.5zM181.10 1024.05h2.5v2.5h-2.5zM175.80 1024.05h2.5v2.5h-2.5zM170.50 1024.05h2.5v2.5h-2.5zM165.20 1024.05h2.5v2.5h-2.5zM159.90 1024.05h2.5v2.5h-2.5zM154.60 1024.05h2.5v2.5h-2.5zM444.80 1076.15h2.5v2.5h-2.5zM439.50 1076.15h2.5v2.5h-2.5zM434.20 1076.15h2.5v2.5h-2.5zM428.90 1076.15h2.5v2.5h-2.5zM423.60 1076.15h2.5v2.5h-2.5zM418.30 1076.15h2.5v2.5h-2.5zM413.00 1076.15h2.5v2.5h-2.5zM407.70 1076.15h2.5v2.5h-2.5zM402.40 1076.15h2.5v2.5h-2.5zM397.10 1076.15h2.5v2.5h-2.5zM391.80 1076.15h2.5v2.5h-2.5zM386.50 1076.15h2.5v2.5h-2.5zM381.20 1076.15h2.5v2.5h-2.5zM375.90 1076.15h2.5v2.5h-2.5zM370.60 1076.15h2.5v2.5h-2.5zM365.30 1076.15h2.5v2.5h-2.5zM360.00 1076.15h2.5v2.5h-2.5zM354.70 1076.15h2.5v2.5h-2.5zM349.40 1076.15h2.5v2.5h-2.5zM344.10 1076.15h2.5v2.5h-2.5zM338.80 1076.15h2.5v2.5h-2.5zM333.50 1076.15h2.5v2.5h-2.5zM328.20 1076.15h2.5v2.5h-2.5zM322.90 1076.15h2.5v2.5h-2.5zM317.60 1076.15h2.5v2.5h-2.5zM312.30 1076.15h2.5v2.5h-2.5zM307.00 1076.15h2.5v2.5h-2.5zM301.70 1076.15h2.5v2.5h-2.5zM296.40 1076.15h2.5v2.5h-2.5zM291.10 1076.15h2.5v2.5h-2.5zM285.80 1076.15h2.5v2.5h-2.5zM280.50 1076.15h2.5v2.5h-2.5zM275.20 1076.15h2.5v2.5h-2.5zM269.90 1076.15h2.5v2.5h-2.5zM264.60 1076.15h2.5v2.5h-2.5zM444.70 1165.95h2.5v2.5h-2.5zM439.40 1165.95h2.5v2.5h-2.5zM434.10 1165.95h2.5v2.5h-2.5zM428.80 1165.95h2.5v2.5h-2.5zM423.50 1165.95h2.5v2.5h-2.5zM418.20 1165.95h2.5v2.5h-2.5zM412.90 1165.95h2.5v2.5h-2.5zM407.60 1165.95h2.5v2.5h-2.5zM402.30 1165.95h2.5v2.5h-2.5zM397.00 1165.95h2.5v2.5h-2.5zM391.70 1165.95h2.5v2.5h-2.5zM386.40 1165.95h2.5v2.5h-2.5zM381.10 1165.95h2.5v2.5h-2.5zM375.80 1165.95h2.5v2.5h-2.5zM370.50 1165.95h2.5v2.5h-2.5zM365.20 1165.95h2.5v2.5h-2.5zM359.90 1165.95h2.5v2.5h-2.5zM354.60 1165.95h2.5v2.5h-2.5zM349.30 1165.95h2.5v2.5h-2.5zM344.00 1165.95h2.5v2.5h-2.5zM439.30 1218.25h2.5v2.5h-2.5zM434.00 1218.25h2.5v2.5h-2.5zM428.69 1218.25h2.5v2.5h-2.5zM423.39 1218.25h2.5v2.5h-2.5zM418.08 1218.25h2.5v2.5h-2.5zM412.78 1218.25h2.5v2.5h-2.5zM407.47 1218.25h2.5v2.5h-2.5zM402.17 1218.25h2.5v2.5h-2.5zM396.87 1218.25h2.5v2.5h-2.5zM391.56 1218.25h2.5v2.5h-2.5zM386.26 1218.25h2.5v2.5h-2.5zM380.95 1218.25h2.5v2.5h-2.5zM375.65 1218.25h2.5v2.5h-2.5zM370.35 1218.25h2.5v2.5h-2.5zM365.04 1218.25h2.5v2.5h-2.5zM359.74 1218.25h2.5v2.5h-2.5zM354.43 1218.25h2.5v2.5h-2.5zM349.13 1218.25h2.5v2.5h-2.5zM343.82 1218.25h2.5v2.5h-2.5zM338.52 1218.25h2.5v2.5h-2.5zM333.22 1218.25h2.5v2.5h-2.5zM327.91 1218.25h2.5v2.5h-2.5zM322.61 1218.25h2.5v2.5h-2.5zM317.30 1218.25h2.5v2.5h-2.5zM312.00 1218.25h2.5v2.5h-2.5zM306.69 1218.25h2.5v2.5h-2.5zM301.39 1218.25h2.5v2.5h-2.5zM296.09 1218.25h2.5v2.5h-2.5zM290.78 1218.25h2.5v2.5h-2.5zM285.48 1218.25h2.5v2.5h-2.5zM280.17 1218.25h2.5v2.5h-2.5zM274.87 1218.25h2.5v2.5h-2.5zM269.56 1218.25h2.5v2.5h-2.5zM264.26 1218.25h2.5v2.5h-2.5zM258.96 1218.25h2.5v2.5h-2.5zM253.65 1218.25h2.5v2.5h-2.5zM248.35 1218.25h2.5v2.5h-2.5zM243.04 1218.25h2.5v2.5h-2.5zM237.74 1218.25h2.5v2.5h-2.5zM232.44 1218.25h2.5v2.5h-2.5zM227.13 1218.25h2.5v2.5h-2.5zM221.83 1218.25h2.5v2.5h-2.5zM216.52 1218.25h2.5v2.5h-2.5zM211.22 1218.25h2.5v2.5h-2.5zM205.91 1218.25h2.5v2.5h-2.5zM200.61 1218.25h2.5v2.5h-2.5zM195.31 1218.25h2.5v2.5h-2.5zM190.00 1218.25h2.5v2.5h-2.5zM184.70 1218.25h2.5v2.5h-2.5zM179.39 1218.25h2.5v2.5h-2.5zM174.09 1218.25h2.5v2.5h-2.5zM168.78 1218.25h2.5v2.5h-2.5zM163.48 1218.25h2.5v2.5h-2.5zM158.18 1218.25h2.5v2.5h-2.5zM152.87 1218.25h2.5v2.5h-2.5zM147.57 1218.25h2.5v2.5h-2.5zM142.26 1218.25h2.5v2.5h-2.5zM136.96 1218.25h2.5v2.5h-2.5zM131.65 1218.25h2.5v2.5h-2.5zM126.35 1218.25h2.5v2.5h-2.5zM121.05 1218.25h2.5v2.5h-2.5zM115.74 1218.25h2.5v2.5h-2.5zM110.44 1218.25h2.5v2.5h-2.5zM105.13 1218.25h2.5v2.5h-2.5zM99.83 1218.25h2.5v2.5h-2.5zM94.53 1218.25h2.5v2.5h-2.5zM89.22 1218.25h2.5v2.5h-2.5zM83.92 1218.25h2.5v2.5h-2.5zM78.61 1218.25h2.5v2.5h-2.5zM73.31 1218.25h2.5v2.5h-2.5zM68.00 1218.25h2.5v2.5h-2.5zM62.70 1218.25h2.5v2.5h-2.5zM444.70 1248.25h2.5v2.5h-2.5zM439.40 1248.25h2.5v2.5h-2.5zM434.10 1248.25h2.5v2.5h-2.5zM428.80 1248.25h2.5v2.5h-2.5zM423.50 1248.25h2.5v2.5h-2.5zM418.20 1248.25h2.5v2.5h-2.5zM412.90 1248.25h2.5v2.5h-2.5zM407.60 1248.25h2.5v2.5h-2.5zM402.30 1248.25h2.5v2.5h-2.5zM397.00 1248.25h2.5v2.5h-2.5zM391.70 1248.25h2.5v2.5h-2.5zM940.40 223.15h2.5v2.5h-2.5zM935.10 223.15h2.5v2.5h-2.5zM929.80 223.15h2.5v2.5h-2.5zM924.50 223.15h2.5v2.5h-2.5zM919.20 223.15h2.5v2.5h-2.5zM913.90 223.15h2.5v2.5h-2.5zM908.60 223.15h2.5v2.5h-2.5zM903.30 223.15h2.5v2.5h-2.5zM898.00 223.15h2.5v2.5h-2.5zM892.70 223.15h2.5v2.5h-2.5zM887.40 223.15h2.5v2.5h-2.5zM882.10 223.15h2.5v2.5h-2.5zM876.80 223.15h2.5v2.5h-2.5zM871.50 223.15h2.5v2.5h-2.5zM866.20 223.15h2.5v2.5h-2.5zM860.90 223.15h2.5v2.5h-2.5zM855.60 223.15h2.5v2.5h-2.5zM850.30 223.15h2.5v2.5h-2.5zM845.00 223.15h2.5v2.5h-2.5zM839.70 223.15h2.5v2.5h-2.5zM834.40 223.15h2.5v2.5h-2.5zM829.10 223.15h2.5v2.5h-2.5zM823.80 223.15h2.5v2.5h-2.5zM818.50 223.15h2.5v2.5h-2.5zM813.20 223.15h2.5v2.5h-2.5zM807.90 223.15h2.5v2.5h-2.5zM802.60 223.15h2.5v2.5h-2.5zM797.30 223.15h2.5v2.5h-2.5zM792.00 223.15h2.5v2.5h-2.5zM786.70 223.15h2.5v2.5h-2.5zM781.40 223.15h2.5v2.5h-2.5zM776.10 223.15h2.5v2.5h-2.5zM770.80 223.15h2.5v2.5h-2.5zM765.50 223.15h2.5v2.5h-2.5zM760.20 223.15h2.5v2.5h-2.5zM754.90 223.15h2.5v2.5h-2.5zM749.60 223.15h2.5v2.5h-2.5zM744.30 223.15h2.5v2.5h-2.5zM739.00 223.15h2.5v2.5h-2.5zM733.70 223.15h2.5v2.5h-2.5zM728.40 223.15h2.5v2.5h-2.5zM723.10 223.15h2.5v2.5h-2.5zM717.80 223.15h2.5v2.5h-2.5zM712.50 223.15h2.5v2.5h-2.5zM707.20 223.15h2.5v2.5h-2.5zM701.90 223.15h2.5v2.5h-2.5zM696.60 223.15h2.5v2.5h-2.5zM691.30 223.15h2.5v2.5h-2.5zM686.00 223.15h2.5v2.5h-2.5zM680.70 223.15h2.5v2.5h-2.5zM675.40 223.15h2.5v2.5h-2.5zM670.10 223.15h2.5v2.5h-2.5zM664.80 223.15h2.5v2.5h-2.5zM659.50 223.15h2.5v2.5h-2.5zM654.20 223.15h2.5v2.5h-2.5zM648.90 223.15h2.5v2.5h-2.5zM643.60 223.15h2.5v2.5h-2.5zM638.30 223.15h2.5v2.5h-2.5zM633.00 223.15h2.5v2.5h-2.5zM627.70 223.15h2.5v2.5h-2.5zM622.40 223.15h2.5v2.5h-2.5zM617.10 223.15h2.5v2.5h-2.5zM611.80 223.15h2.5v2.5h-2.5zM606.50 223.15h2.5v2.5h-2.5zM601.20 223.15h2.5v2.5h-2.5zM595.90 223.15h2.5v2.5h-2.5zM590.60 223.15h2.5v2.5h-2.5zM585.30 223.15h2.5v2.5h-2.5zM580.00 223.15h2.5v2.5h-2.5zM574.70 223.15h2.5v2.5h-2.5zM569.40 223.15h2.5v2.5h-2.5zM564.10 223.15h2.5v2.5h-2.5zM558.80 223.15h2.5v2.5h-2.5zM944.80 253.05h2.5v2.5h-2.5zM939.50 253.05h2.5v2.5h-2.5zM934.20 253.05h2.5v2.5h-2.5zM928.90 253.05h2.5v2.5h-2.5zM923.60 253.05h2.5v2.5h-2.5zM918.30 253.05h2.5v2.5h-2.5zM913.00 253.05h2.5v2.5h-2.5zM907.70 253.05h2.5v2.5h-2.5zM902.40 253.05h2.5v2.5h-2.5zM897.10 253.05h2.5v2.5h-2.5zM891.80 253.05h2.5v2.5h-2.5zM886.50 253.05h2.5v2.5h-2.5zM881.20 253.05h2.5v2.5h-2.5zM875.90 253.05h2.5v2.5h-2.5zM870.60 253.05h2.5v2.5h-2.5zM865.30 253.05h2.5v2.5h-2.5zM860.00 253.05h2.5v2.5h-2.5zM854.70 253.05h2.5v2.5h-2.5zM849.40 253.05h2.5v2.5h-2.5zM844.10 253.05h2.5v2.5h-2.5zM838.80 253.05h2.5v2.5h-2.5zM941.40 283.15h2.5v2.5h-2.5zM936.10 283.15h2.5v2.5h-2.5zM930.80 283.15h2.5v2.5h-2.5zM925.50 283.15h2.5v2.5h-2.5zM920.20 283.15h2.5v2.5h-2.5zM914.90 283.15h2.5v2.5h-2.5zM909.60 283.15h2.5v2.5h-2.5zM904.30 283.15h2.5v2.5h-2.5zM899.00 283.15h2.5v2.5h-2.5zM893.70 283.15h2.5v2.5h-2.5zM888.40 283.15h2.5v2.5h-2.5zM883.10 283.15h2.5v2.5h-2.5zM877.80 283.15h2.5v2.5h-2.5zM946.90 313.25h2.5v2.5h-2.5zM941.60 313.25h2.5v2.5h-2.5zM936.30 313.25h2.5v2.5h-2.5zM931.00 313.25h2.5v2.5h-2.5zM925.70 313.25h2.5v2.5h-2.5zM920.40 313.25h2.5v2.5h-2.5zM915.10 313.25h2.5v2.5h-2.5zM909.80 313.25h2.5v2.5h-2.5zM904.50 313.25h2.5v2.5h-2.5zM899.20 313.25h2.5v2.5h-2.5zM893.90 313.25h2.5v2.5h-2.5zM888.60 313.25h2.5v2.5h-2.5zM883.30 313.25h2.5v2.5h-2.5zM878.00 313.25h2.5v2.5h-2.5zM872.70 313.25h2.5v2.5h-2.5zM867.40 313.25h2.5v2.5h-2.5zM862.10 313.25h2.5v2.5h-2.5zM856.80 313.25h2.5v2.5h-2.5zM851.50 313.25h2.5v2.5h-2.5zM846.20 313.25h2.5v2.5h-2.5zM840.90 313.25h2.5v2.5h-2.5zM835.60 313.25h2.5v2.5h-2.5zM830.30 313.25h2.5v2.5h-2.5zM825.00 313.25h2.5v2.5h-2.5zM819.70 313.25h2.5v2.5h-2.5zM814.40 313.25h2.5v2.5h-2.5zM809.10 313.25h2.5v2.5h-2.5zM803.80 313.25h2.5v2.5h-2.5zM798.50 313.25h2.5v2.5h-2.5zM793.20 313.25h2.5v2.5h-2.5zM787.90 313.25h2.5v2.5h-2.5zM782.60 313.25h2.5v2.5h-2.5zM777.30 313.25h2.5v2.5h-2.5zM772.00 313.25h2.5v2.5h-2.5zM766.70 313.25h2.5v2.5h-2.5zM761.40 313.25h2.5v2.5h-2.5zM756.10 313.25h2.5v2.5h-2.5zM944.80 402.05h2.5v2.5h-2.5zM939.50 402.05h2.5v2.5h-2.5zM934.20 402.05h2.5v2.5h-2.5zM928.90 402.05h2.5v2.5h-2.5zM923.60 402.05h2.5v2.5h-2.5zM918.30 402.05h2.5v2.5h-2.5zM944.80 432.05h2.5v2.5h-2.5zM939.50 432.05h2.5v2.5h-2.5zM934.20 432.05h2.5v2.5h-2.5zM928.90 432.05h2.5v2.5h-2.5zM923.60 432.05h2.5v2.5h-2.5zM918.30 432.05h2.5v2.5h-2.5zM913.00 432.05h2.5v2.5h-2.5zM907.70 432.05h2.5v2.5h-2.5zM902.40 432.05h2.5v2.5h-2.5zM897.10 432.05h2.5v2.5h-2.5zM891.80 432.05h2.5v2.5h-2.5zM886.50 432.05h2.5v2.5h-2.5zM881.20 432.05h2.5v2.5h-2.5zM875.90 432.05h2.5v2.5h-2.5zM944.40 570.75h2.5v2.5h-2.5zM939.10 570.75h2.5v2.5h-2.5zM933.80 570.75h2.5v2.5h-2.5zM928.50 570.75h2.5v2.5h-2.5zM923.20 570.75h2.5v2.5h-2.5zM917.90 570.75h2.5v2.5h-2.5zM912.60 570.75h2.5v2.5h-2.5zM907.30 570.75h2.5v2.5h-2.5zM902.00 570.75h2.5v2.5h-2.5zM896.70 570.75h2.5v2.5h-2.5zM891.40 570.75h2.5v2.5h-2.5zM886.10 570.75h2.5v2.5h-2.5zM880.80 570.75h2.5v2.5h-2.5zM875.50 570.75h2.5v2.5h-2.5zM870.20 570.75h2.5v2.5h-2.5zM864.90 570.75h2.5v2.5h-2.5zM859.60 570.75h2.5v2.5h-2.5zM854.30 570.75h2.5v2.5h-2.5zM849.00 570.75h2.5v2.5h-2.5zM843.70 570.75h2.5v2.5h-2.5zM838.40 570.75h2.5v2.5h-2.5zM944.40 623.45h2.5v2.5h-2.5zM939.10 623.45h2.5v2.5h-2.5zM933.80 623.45h2.5v2.5h-2.5zM928.50 623.45h2.5v2.5h-2.5zM923.20 623.45h2.5v2.5h-2.5zM917.90 623.45h2.5v2.5h-2.5zM912.60 623.45h2.5v2.5h-2.5zM907.30 623.45h2.5v2.5h-2.5zM902.00 623.45h2.5v2.5h-2.5zM944.40 697.65h2.5v2.5h-2.5zM939.10 697.65h2.5v2.5h-2.5zM933.80 697.65h2.5v2.5h-2.5zM928.50 697.65h2.5v2.5h-2.5zM923.20 697.65h2.5v2.5h-2.5zM917.90 697.65h2.5v2.5h-2.5zM912.60 697.65h2.5v2.5h-2.5zM907.30 697.65h2.5v2.5h-2.5zM902.00 697.65h2.5v2.5h-2.5zM896.70 697.65h2.5v2.5h-2.5zM891.40 697.65h2.5v2.5h-2.5zM886.10 697.65h2.5v2.5h-2.5zM880.80 697.65h2.5v2.5h-2.5zM875.50 697.65h2.5v2.5h-2.5zM870.20 697.65h2.5v2.5h-2.5zM864.90 697.65h2.5v2.5h-2.5zM859.60 697.65h2.5v2.5h-2.5zM854.30 697.65h2.5v2.5h-2.5zM849.00 697.65h2.5v2.5h-2.5zM843.70 697.65h2.5v2.5h-2.5zM838.40 697.65h2.5v2.5h-2.5zM833.10 697.65h2.5v2.5h-2.5zM827.80 697.65h2.5v2.5h-2.5zM822.50 697.65h2.5v2.5h-2.5zM817.20 697.65h2.5v2.5h-2.5zM811.90 697.65h2.5v2.5h-2.5zM806.60 697.65h2.5v2.5h-2.5zM801.30 697.65h2.5v2.5h-2.5zM796.00 697.65h2.5v2.5h-2.5zM790.70 697.65h2.5v2.5h-2.5zM785.40 697.65h2.5v2.5h-2.5zM780.10 697.65h2.5v2.5h-2.5zM774.80 697.65h2.5v2.5h-2.5zM769.50 697.65h2.5v2.5h-2.5zM764.20 697.65h2.5v2.5h-2.5zM758.90 697.65h2.5v2.5h-2.5zM753.60 697.65h2.5v2.5h-2.5zM748.30 697.65h2.5v2.5h-2.5zM743.00 697.65h2.5v2.5h-2.5zM737.70 697.65h2.5v2.5h-2.5zM732.40 697.65h2.5v2.5h-2.5zM727.10 697.65h2.5v2.5h-2.5zM721.80 697.65h2.5v2.5h-2.5zM716.50 697.65h2.5v2.5h-2.5zM711.20 697.65h2.5v2.5h-2.5zM705.90 697.65h2.5v2.5h-2.5zM700.60 697.65h2.5v2.5h-2.5zM695.30 697.65h2.5v2.5h-2.5zM690.00 697.65h2.5v2.5h-2.5zM684.70 697.65h2.5v2.5h-2.5zM679.40 697.65h2.5v2.5h-2.5zM674.10 697.65h2.5v2.5h-2.5zM944.40 750.05h2.5v2.5h-2.5zM939.10 750.05h2.5v2.5h-2.5zM933.80 750.05h2.5v2.5h-2.5zM928.50 750.05h2.5v2.5h-2.5zM923.20 750.05h2.5v2.5h-2.5zM917.90 750.05h2.5v2.5h-2.5zM912.60 750.05h2.5v2.5h-2.5zM907.30 750.05h2.5v2.5h-2.5zM902.00 750.05h2.5v2.5h-2.5zM896.70 750.05h2.5v2.5h-2.5zM891.40 750.05h2.5v2.5h-2.5zM886.10 750.05h2.5v2.5h-2.5zM880.80 750.05h2.5v2.5h-2.5zM875.50 750.05h2.5v2.5h-2.5zM870.20 750.05h2.5v2.5h-2.5zM864.90 750.05h2.5v2.5h-2.5zM859.60 750.05h2.5v2.5h-2.5zM854.30 750.05h2.5v2.5h-2.5zM849.00 750.05h2.5v2.5h-2.5zM843.70 750.05h2.5v2.5h-2.5zM838.40 750.05h2.5v2.5h-2.5zM944.40 802.35h2.5v2.5h-2.5zM939.10 802.35h2.5v2.5h-2.5zM933.80 802.35h2.5v2.5h-2.5zM928.50 802.35h2.5v2.5h-2.5zM923.20 802.35h2.5v2.5h-2.5zM917.90 802.35h2.5v2.5h-2.5zM912.60 802.35h2.5v2.5h-2.5zM907.30 802.35h2.5v2.5h-2.5zM902.00 802.35h2.5v2.5h-2.5zM896.70 802.35h2.5v2.5h-2.5zM891.40 802.35h2.5v2.5h-2.5zM886.10 802.35h2.5v2.5h-2.5zM880.80 802.35h2.5v2.5h-2.5zM875.50 802.35h2.5v2.5h-2.5zM870.20 802.35h2.5v2.5h-2.5zM864.90 802.35h2.5v2.5h-2.5zM859.60 802.35h2.5v2.5h-2.5zM854.30 802.35h2.5v2.5h-2.5zM849.00 802.35h2.5v2.5h-2.5zM843.70 802.35h2.5v2.5h-2.5zM838.40 802.35h2.5v2.5h-2.5zM941.80 854.15h2.5v2.5h-2.5zM936.50 854.15h2.5v2.5h-2.5zM931.20 854.15h2.5v2.5h-2.5zM925.90 854.15h2.5v2.5h-2.5zM920.60 854.15h2.5v2.5h-2.5zM915.30 854.15h2.5v2.5h-2.5zM910.00 854.15h2.5v2.5h-2.5zM904.70 854.15h2.5v2.5h-2.5zM899.40 854.15h2.5v2.5h-2.5zM894.10 854.15h2.5v2.5h-2.5zM888.80 854.15h2.5v2.5h-2.5zM883.50 854.15h2.5v2.5h-2.5zM878.20 854.15h2.5v2.5h-2.5zM872.90 854.15h2.5v2.5h-2.5zM867.60 854.15h2.5v2.5h-2.5zM862.30 854.15h2.5v2.5h-2.5zM857.00 854.15h2.5v2.5h-2.5zM851.70 854.15h2.5v2.5h-2.5zM846.40 854.15h2.5v2.5h-2.5zM841.10 854.15h2.5v2.5h-2.5zM941.80 905.95h2.5v2.5h-2.5zM936.50 905.95h2.5v2.5h-2.5zM931.20 905.95h2.5v2.5h-2.5zM925.90 905.95h2.5v2.5h-2.5zM920.60 905.95h2.5v2.5h-2.5zM915.30 905.95h2.5v2.5h-2.5zM910.00 905.95h2.5v2.5h-2.5zM904.70 905.95h2.5v2.5h-2.5zM899.40 905.95h2.5v2.5h-2.5zM894.10 905.95h2.5v2.5h-2.5zM888.80 905.95h2.5v2.5h-2.5zM883.50 905.95h2.5v2.5h-2.5zM878.20 905.95h2.5v2.5h-2.5zM872.90 905.95h2.5v2.5h-2.5zM867.60 905.95h2.5v2.5h-2.5zM862.30 905.95h2.5v2.5h-2.5zM857.00 905.95h2.5v2.5h-2.5zM851.70 905.95h2.5v2.5h-2.5zM846.40 905.95h2.5v2.5h-2.5zM841.10 905.95h2.5v2.5h-2.5zM947.50 996.15h2.5v2.5h-2.5zM942.20 996.15h2.5v2.5h-2.5zM936.90 996.15h2.5v2.5h-2.5zM931.60 996.15h2.5v2.5h-2.5zM926.30 996.15h2.5v2.5h-2.5zM921.00 996.15h2.5v2.5h-2.5zM915.70 996.15h2.5v2.5h-2.5zM910.40 996.15h2.5v2.5h-2.5zM905.10 996.15h2.5v2.5h-2.5zM899.80 996.15h2.5v2.5h-2.5zM894.50 996.15h2.5v2.5h-2.5zM889.20 996.15h2.5v2.5h-2.5zM883.90 996.15h2.5v2.5h-2.5zM878.60 996.15h2.5v2.5h-2.5zM873.30 996.15h2.5v2.5h-2.5zM868.00 996.15h2.5v2.5h-2.5zM862.70 996.15h2.5v2.5h-2.5zM857.40 996.15h2.5v2.5h-2.5zM852.10 996.15h2.5v2.5h-2.5zM947.50 1026.05h2.5v2.5h-2.5zM942.20 1026.05h2.5v2.5h-2.5zM936.90 1026.05h2.5v2.5h-2.5zM931.60 1026.05h2.5v2.5h-2.5zM926.30 1026.05h2.5v2.5h-2.5zM921.00 1026.05h2.5v2.5h-2.5zM915.70 1026.05h2.5v2.5h-2.5zM942.70 1056.25h2.5v2.5h-2.5zM937.40 1056.25h2.5v2.5h-2.5zM932.10 1056.25h2.5v2.5h-2.5zM926.80 1056.25h2.5v2.5h-2.5zM921.50 1056.25h2.5v2.5h-2.5zM916.20 1056.25h2.5v2.5h-2.5zM910.90 1056.25h2.5v2.5h-2.5zM905.60 1056.25h2.5v2.5h-2.5zM900.30 1056.25h2.5v2.5h-2.5zM895.00 1056.25h2.5v2.5h-2.5zM889.70 1056.25h2.5v2.5h-2.5zM884.40 1056.25h2.5v2.5h-2.5zM879.10 1056.25h2.5v2.5h-2.5zM873.80 1056.25h2.5v2.5h-2.5zM868.50 1056.25h2.5v2.5h-2.5zM863.20 1056.25h2.5v2.5h-2.5zM857.90 1056.25h2.5v2.5h-2.5zM852.60 1056.25h2.5v2.5h-2.5zM847.30 1056.25h2.5v2.5h-2.5zM842.00 1056.25h2.5v2.5h-2.5zM836.70 1056.25h2.5v2.5h-2.5zM831.40 1056.25h2.5v2.5h-2.5zM826.10 1056.25h2.5v2.5h-2.5zM820.80 1056.25h2.5v2.5h-2.5zM815.50 1056.25h2.5v2.5h-2.5zM810.20 1056.25h2.5v2.5h-2.5zM804.90 1056.25h2.5v2.5h-2.5zM799.60 1056.25h2.5v2.5h-2.5zM794.30 1056.25h2.5v2.5h-2.5zM789.00 1056.25h2.5v2.5h-2.5zM783.70 1056.25h2.5v2.5h-2.5zM942.70 1172.25h2.5v2.5h-2.5zM937.40 1172.25h2.5v2.5h-2.5zM932.10 1172.25h2.5v2.5h-2.5zM926.80 1172.25h2.5v2.5h-2.5zM921.50 1172.25h2.5v2.5h-2.5zM916.20 1172.25h2.5v2.5h-2.5zM910.90 1172.25h2.5v2.5h-2.5zM905.60 1172.25h2.5v2.5h-2.5zM900.30 1172.25h2.5v2.5h-2.5zM895.00 1172.25h2.5v2.5h-2.5zM889.70 1172.25h2.5v2.5h-2.5zM884.40 1172.25h2.5v2.5h-2.5zM879.10 1172.25h2.5v2.5h-2.5zM873.80 1172.25h2.5v2.5h-2.5zM868.50 1172.25h2.5v2.5h-2.5zM863.20 1172.25h2.5v2.5h-2.5zM857.90 1172.25h2.5v2.5h-2.5zM852.60 1172.25h2.5v2.5h-2.5zM847.30 1172.25h2.5v2.5h-2.5zM842.00 1172.25h2.5v2.5h-2.5zM836.70 1172.25h2.5v2.5h-2.5zM831.40 1172.25h2.5v2.5h-2.5zM826.10 1172.25h2.5v2.5h-2.5zM820.80 1172.25h2.5v2.5h-2.5zM815.50 1172.25h2.5v2.5h-2.5zM810.20 1172.25h2.5v2.5h-2.5zM804.90 1172.25h2.5v2.5h-2.5zM939.50 1224.35h2.5v2.5h-2.5zM934.21 1224.35h2.5v2.5h-2.5zM928.92 1224.35h2.5v2.5h-2.5zM923.64 1224.35h2.5v2.5h-2.5zM918.35 1224.35h2.5v2.5h-2.5zM913.06 1224.35h2.5v2.5h-2.5zM907.77 1224.35h2.5v2.5h-2.5zM902.49 1224.35h2.5v2.5h-2.5zM897.20 1224.35h2.5v2.5h-2.5zM891.91 1224.35h2.5v2.5h-2.5zM886.62 1224.35h2.5v2.5h-2.5zM881.34 1224.35h2.5v2.5h-2.5zM876.05 1224.35h2.5v2.5h-2.5zM870.76 1224.35h2.5v2.5h-2.5zM865.48 1224.35h2.5v2.5h-2.5zM860.19 1224.35h2.5v2.5h-2.5zM854.90 1224.35h2.5v2.5h-2.5zM849.61 1224.35h2.5v2.5h-2.5zM844.33 1224.35h2.5v2.5h-2.5zM839.04 1224.35h2.5v2.5h-2.5zM833.75 1224.35h2.5v2.5h-2.5zM828.46 1224.35h2.5v2.5h-2.5zM823.17 1224.35h2.5v2.5h-2.5zM817.89 1224.35h2.5v2.5h-2.5zM812.60 1224.35h2.5v2.5h-2.5zM807.31 1224.35h2.5v2.5h-2.5zM802.02 1224.35h2.5v2.5h-2.5zM796.74 1224.35h2.5v2.5h-2.5zM791.45 1224.35h2.5v2.5h-2.5zM786.16 1224.35h2.5v2.5h-2.5zM780.88 1224.35h2.5v2.5h-2.5zM775.59 1224.35h2.5v2.5h-2.5zM770.30 1224.35h2.5v2.5h-2.5zM765.01 1224.35h2.5v2.5h-2.5zM759.73 1224.35h2.5v2.5h-2.5zM754.44 1224.35h2.5v2.5h-2.5zM749.15 1224.35h2.5v2.5h-2.5zM743.86 1224.35h2.5v2.5h-2.5zM738.58 1224.35h2.5v2.5h-2.5zM733.29 1224.35h2.5v2.5h-2.5zM728.00 1224.35h2.5v2.5h-2.5zM722.71 1224.35h2.5v2.5h-2.5zM717.42 1224.35h2.5v2.5h-2.5zM712.14 1224.35h2.5v2.5h-2.5zM706.85 1224.35h2.5v2.5h-2.5zM701.56 1224.35h2.5v2.5h-2.5zM696.27 1224.35h2.5v2.5h-2.5zM690.99 1224.35h2.5v2.5h-2.5zM685.70 1224.35h2.5v2.5h-2.5zM680.41 1224.35h2.5v2.5h-2.5zM675.12 1224.35h2.5v2.5h-2.5zM669.84 1224.35h2.5v2.5h-2.5zM664.55 1224.35h2.5v2.5h-2.5zM659.26 1224.35h2.5v2.5h-2.5zM653.97 1224.35h2.5v2.5h-2.5zM648.69 1224.35h2.5v2.5h-2.5zM643.40 1224.35h2.5v2.5h-2.5zM638.11 1224.35h2.5v2.5h-2.5zM632.83 1224.35h2.5v2.5h-2.5zM627.54 1224.35h2.5v2.5h-2.5zM622.25 1224.35h2.5v2.5h-2.5zM616.96 1224.35h2.5v2.5h-2.5zM611.67 1224.35h2.5v2.5h-2.5zM606.39 1224.35h2.5v2.5h-2.5zM601.10 1224.35h2.5v2.5h-2.5zM595.81 1224.35h2.5v2.5h-2.5zM590.52 1224.35h2.5v2.5h-2.5zM585.24 1224.35h2.5v2.5h-2.5zM579.95 1224.35h2.5v2.5h-2.5zM574.66 1224.35h2.5v2.5h-2.5zM569.38 1224.35h2.5v2.5h-2.5zM564.09 1224.35h2.5v2.5h-2.5zM558.80 1224.35h2.5v2.5h-2.5zM942.70 1253.15h2.5v2.5h-2.5zM937.40 1253.15h2.5v2.5h-2.5zM932.10 1253.15h2.5v2.5h-2.5zM926.80 1253.15h2.5v2.5h-2.5zM921.50 1253.15h2.5v2.5h-2.5zM916.20 1253.15h2.5v2.5h-2.5zM910.90 1253.15h2.5v2.5h-2.5zM905.60 1253.15h2.5v2.5h-2.5zM900.30 1253.15h2.5v2.5h-2.5zM895.00 1253.15h2.5v2.5h-2.5zM889.70 1253.15h2.5v2.5h-2.5zM884.40 1253.15h2.5v2.5h-2.5zM879.10 1253.15h2.5v2.5h-2.5zM873.80 1253.15h2.5v2.5h-2.5zM868.50 1253.15h2.5v2.5h-2.5zM863.20 1253.15h2.5v2.5h-2.5zM857.90 1253.15h2.5v2.5h-2.5zM852.60 1253.15h2.5v2.5h-2.5zM847.30 1253.15h2.5v2.5h-2.5zM842.00 1253.15h2.5v2.5h-2.5zM836.70 1253.15h2.5v2.5h-2.5zM831.40 1253.15h2.5v2.5h-2.5zM942.70 1283.85h2.5v2.5h-2.5zM937.40 1283.85h2.5v2.5h-2.5zM932.10 1283.85h2.5v2.5h-2.5zM926.80 1283.85h2.5v2.5h-2.5zM921.50 1283.85h2.5v2.5h-2.5zM916.20 1283.85h2.5v2.5h-2.5zM910.90 1283.85h2.5v2.5h-2.5zM905.60 1283.85h2.5v2.5h-2.5zM900.30 1283.85h2.5v2.5h-2.5zM895.00 1283.85h2.5v2.5h-2.5zM889.70 1283.85h2.5v2.5h-2.5zM884.40 1283.85h2.5v2.5h-2.5zM879.10 1283.85h2.5v2.5h-2.5zM873.80 1283.85h2.5v2.5h-2.5zM868.50 1283.85h2.5v2.5h-2.5zM863.20 1283.85h2.5v2.5h-2.5zM857.90 1283.85h2.5v2.5h-2.5zM852.60 1283.85h2.5v2.5h-2.5zM847.30 1283.85h2.5v2.5h-2.5zM942.70 1314.15h2.5v2.5h-2.5zM937.40 1314.15h2.5v2.5h-2.5zM932.10 1314.15h2.5v2.5h-2.5zM926.80 1314.15h2.5v2.5h-2.5zM921.50 1314.15h2.5v2.5h-2.5zM916.20 1314.15h2.5v2.5h-2.5zM910.90 1314.15h2.5v2.5h-2.5zM905.60 1314.15h2.5v2.5h-2.5zM900.30 1314.15h2.5v2.5h-2.5zM895.00 1314.15h2.5v2.5h-2.5zM889.70 1314.15h2.5v2.5h-2.5zM884.40 1314.15h2.5v2.5h-2.5zM879.10 1314.15h2.5v2.5h-2.5z"/>
<path fill="#1c1a1b" d="M453.55 294.20h1.95V310.90h-1.95zM450.50 295.10L453.55 294.20v1.9L450.85 296.90zM448.05 346.30h1.95V363.00h-1.95zM445.00 347.20L448.05 346.30v1.9L445.35 349.00zM453.55 376.30h1.95V393.00h-1.95zM450.50 377.20L453.55 376.30v1.9L450.85 379.00zM453.55 406.30h1.95V423.00h-1.95zM450.50 407.20L453.55 406.30v1.9L450.85 409.00zM448.05 458.30h1.95V475.00h-1.95zM445.00 459.20L448.05 458.30v1.9L445.35 461.00zM458.95 510.30h1.95V527.00h-1.95zM455.90 511.20L458.95 510.30v1.9L456.25 513.00zM484.05 510.30h1.95V527.00h-1.95zM481.00 511.20L484.05 510.30v1.9L481.35 513.00zM460.65 584.30h1.95V601.00h-1.95zM457.60 585.20L460.65 584.30v1.9L457.95 587.00zM484.05 584.30h1.95V601.00h-1.95zM481.00 585.20L484.05 584.30v1.9L481.35 587.00zM458.95 636.50h1.95V653.20h-1.95zM455.90 637.40L458.95 636.50v1.9L456.25 639.20zM484.05 636.50h1.95V653.20h-1.95zM481.00 637.40L484.05 636.50v1.9L481.35 639.20zM460.65 688.60h1.95V705.30h-1.95zM457.60 689.50L460.65 688.60v1.9L457.95 691.30zM484.05 688.60h1.95V705.30h-1.95zM481.00 689.50L484.05 688.60v1.9L481.35 691.30zM458.95 740.80h1.95V757.50h-1.95zM455.90 741.70L458.95 740.80v1.9L456.25 743.50zM484.05 740.80h1.95V757.50h-1.95zM481.00 741.70L484.05 740.80v1.9L481.35 743.50zM453.35 792.80h1.95V809.50h-1.95zM450.30 793.70L453.35 792.80v1.9L450.65 795.50zM453.35 867.60h1.95V884.30h-1.95zM450.30 868.50L453.35 867.60v1.9L450.65 870.30zM455.45 897.80h1.95V914.50h-1.95zM452.40 898.70L455.45 897.80v1.9L452.75 900.50zM455.45 927.90h1.95V944.60h-1.95zM452.40 928.80L455.45 927.90v1.9L452.75 930.60zM455.45 957.80h1.95V974.50h-1.95zM452.40 958.70L455.45 957.80v1.9L452.75 960.50zM454.65 1009.90h1.95V1026.60h-1.95zM451.60 1010.80L454.65 1009.90v1.9L451.95 1012.60zM453.35 1062.00h1.95V1078.70h-1.95zM450.30 1062.90L453.35 1062.00v1.9L450.65 1064.70zM453.25 1151.80h1.95V1168.50h-1.95zM450.20 1152.70L453.25 1151.80v1.9L450.55 1154.50zM447.85 1204.10h1.95V1220.80h-1.95zM444.80 1205.00L447.85 1204.10v1.9L445.15 1206.80zM453.25 1234.10h1.95V1250.80h-1.95zM450.20 1235.00L453.25 1234.10v1.9L450.55 1236.80zM948.95 209.00h1.95V225.70h-1.95zM945.90 209.90L948.95 209.00v1.9L946.25 211.70zM953.35 238.90h1.95V255.60h-1.95zM950.30 239.80L953.35 238.90v1.9L950.65 241.60zM949.95 269.00h1.95V285.70h-1.95zM946.90 269.90L949.95 269.00v1.9L947.25 271.70zM955.45 299.10h1.95V315.80h-1.95zM952.40 300.00L955.45 299.10v1.9L952.75 301.80zM953.35 387.90h1.95V404.60h-1.95zM950.30 388.80L953.35 387.90v1.9L950.65 390.60zM953.35 417.90h1.95V434.60h-1.95zM950.30 418.80L953.35 417.90v1.9L950.65 420.60zM952.95 556.60h1.95V573.30h-1.95zM949.90 557.50L952.95 556.60v1.9L950.25 559.30zM952.95 609.30h1.95V626.00h-1.95zM949.90 610.20L952.95 609.30v1.9L950.25 612.00zM952.95 683.50h1.95V700.20h-1.95zM949.90 684.40L952.95 683.50v1.9L950.25 686.20zM952.95 735.90h1.95V752.60h-1.95zM949.90 736.80L952.95 735.90v1.9L950.25 738.60zM952.95 788.20h1.95V804.90h-1.95zM949.90 789.10L952.95 788.20v1.9L950.25 790.90zM950.35 840.00h1.95V856.70h-1.95zM947.30 840.90L950.35 840.00v1.9L947.65 842.70zM950.35 891.80h1.95V908.50h-1.95zM947.30 892.70L950.35 891.80v1.9L947.65 894.50zM956.05 982.00h1.95V998.70h-1.95zM953.00 982.90L956.05 982.00v1.9L953.35 984.70zM980.85 982.00h1.95V998.70h-1.95zM977.80 982.90L980.85 982.00v1.9L978.15 984.70zM956.05 1011.90h1.95V1028.60h-1.95zM953.00 1012.80L956.05 1011.90v1.9L953.35 1014.60zM980.85 1011.90h1.95V1028.60h-1.95zM977.80 1012.80L980.85 1011.90v1.9L978.15 1014.60zM951.25 1042.10h1.95V1058.80h-1.95zM948.20 1043.00L951.25 1042.10v1.9L948.55 1044.80zM951.25 1158.10h1.95V1174.80h-1.95zM948.20 1159.00L951.25 1158.10v1.9L948.55 1160.80zM948.05 1210.20h1.95V1226.90h-1.95zM945.00 1211.10L948.05 1210.20v1.9L945.35 1212.90zM951.25 1239.00h1.95V1255.70h-1.95zM948.20 1239.90L951.25 1239.00v1.9L948.55 1241.70zM951.25 1269.70h1.95V1286.40h-1.95zM948.20 1270.60L951.25 1269.70v1.9L948.55 1272.40zM951.25 1300.00h1.95V1316.70h-1.95zM948.20 1300.90L951.25 1300.00v1.9L948.55 1302.70z"/>
<path fill="#1c1a1b" d="M69.8 179.1H75V198.6H69.8ZM66.4 179.4L70 179.1V184L66.5 184.3Z"/>
</svg>
</body></html>
